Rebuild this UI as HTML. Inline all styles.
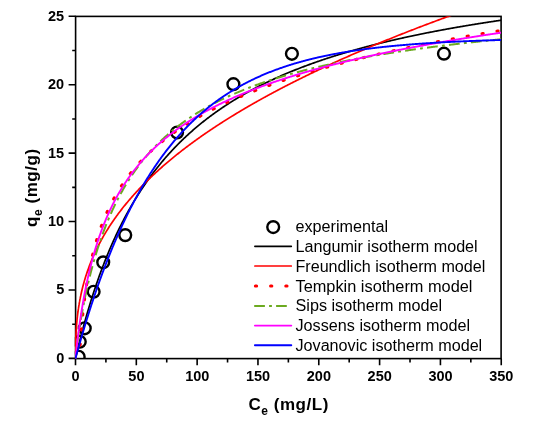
<!DOCTYPE html>
<html><head><meta charset="utf-8"><style>
html,body{margin:0;padding:0;background:#fff;}
body{width:538px;height:436px;overflow:hidden;}
svg{display:block;will-change:transform;font-family:"Liberation Sans",sans-serif;}
.tl{font-weight:bold;font-size:15.2px;fill:#000;}
.ttl{font-weight:bold;font-size:17px;fill:#000;}
.lg{font-size:16px;fill:#000;}
</style></head><body>
<svg width="538" height="436" viewBox="0 0 538 436">
<defs><clipPath id="pc"><rect x="74.8" y="16.3" width="426.2" height="342.8"/></clipPath><clipPath id="pct"><rect x="74.8" y="16.3" width="426.2" height="339.5"/></clipPath></defs>
<g fill="none" stroke="#000" stroke-width="1.6">
<rect x="75.6" y="16.4" width="425.5" height="342.2"/>
<path d="M75.50,358.60 V365.20 M105.91,358.60 V362.40 M136.32,358.60 V365.20 M166.73,358.60 V362.40 M197.14,358.60 V365.20 M227.55,358.60 V362.40 M257.96,358.60 V365.20 M288.37,358.60 V362.40 M318.78,358.60 V365.20 M349.19,358.60 V362.40 M379.60,358.60 V365.20 M410.01,358.60 V362.40 M440.42,358.60 V365.20 M470.83,358.60 V362.40 M501.24,358.60 V365.20 M75.60,358.40 H68.60 M75.60,324.19 H72.20 M75.60,289.98 H68.60 M75.60,255.77 H72.20 M75.60,221.56 H68.60 M75.60,187.35 H72.20 M75.60,153.14 H68.60 M75.60,118.93 H72.20 M75.60,84.72 H68.60 M75.60,50.51 H72.20 M75.60,16.30 H68.60"/>
</g>
<g clip-path="url(#pc)" fill="none" stroke-linejoin="round">
<g stroke="#000" stroke-width="2.4">
<circle cx="78.66" cy="356.76" r="5.9"/>
<circle cx="79.76" cy="341.71" r="5.9"/>
<circle cx="84.74" cy="328.30" r="5.9"/>
<circle cx="93.62" cy="291.76" r="5.9"/>
<circle cx="103.23" cy="262.34" r="5.9"/>
<circle cx="125.25" cy="235.11" r="5.9"/>
<circle cx="177.07" cy="132.48" r="5.9"/>
<circle cx="233.39" cy="84.17" r="5.9"/>
<circle cx="291.90" cy="53.79" r="5.9"/>
<circle cx="443.95" cy="53.66" r="5.9"/>
</g>
<path d="M75.50,358.40 L75.53,358.27 L75.56,358.14 L75.59,358.00 L75.62,357.87 L75.65,357.74 L75.68,357.61 L75.71,357.48 L75.74,357.35 L75.78,357.21 L75.81,357.08 L75.84,356.95 L75.87,356.82 L75.90,356.69 L75.93,356.56 L75.96,356.43 L75.99,356.30 L76.02,356.17 L76.05,356.03 L76.08,355.90 L76.11,355.77 L76.14,355.64 L76.17,355.51 L76.20,355.38 L76.23,355.25 L76.26,355.12 L76.29,354.99 L76.33,354.86 L76.36,354.73 L76.39,354.60 L76.42,354.47 L76.45,354.34 L76.48,354.21 L76.51,354.08 L76.54,353.95 L76.57,353.82 L76.60,353.70 L76.63,353.57 L76.66,353.44 L76.69,353.31 L76.72,353.18 L76.75,353.05 L76.78,352.92 L76.81,352.79 L76.84,352.66 L76.88,352.54 L76.91,352.41 L76.94,352.28 L76.97,352.15 L77.00,352.02 L77.03,351.90 L77.06,351.77 L77.09,351.64 L77.12,351.51 L77.15,351.38 L77.18,351.26 L77.21,351.13 L77.24,351.00 L77.27,350.87 L77.30,350.75 L77.33,350.62 L77.36,350.49 L77.39,350.36 L77.43,350.24 L77.46,350.11 L77.49,349.98 L77.52,349.86 L77.55,349.73 L77.58,349.60 L77.61,349.48 L77.64,349.35 L77.67,349.22 L77.70,349.10 L77.73,348.97 L77.76,348.84 L77.79,348.72 L77.82,348.59 L77.85,348.47 L77.88,348.34 L77.91,348.21 L77.95,348.09 L77.98,347.96 L78.01,347.84 L78.04,347.71 L78.07,347.59 L78.10,347.46 L78.13,347.34 L78.16,347.21 L78.19,347.09 L78.22,346.96 L78.25,346.84 L78.28,346.71 L78.31,346.59 L78.34,346.46 L78.37,346.34 L78.40,346.21 L78.43,346.09 L78.46,345.96 L78.50,345.84 L78.53,345.72 L78.56,345.59 L78.59,345.47 L78.62,345.34 L78.65,345.22 L78.68,345.10 L78.71,344.97 L78.74,344.85 L78.77,344.72 L78.80,344.60 L78.83,344.48 L78.86,344.35 L78.89,344.23 L78.92,344.11 L78.95,343.98 L78.98,343.86 L79.01,343.74 L79.05,343.62 L79.08,343.49 L79.11,343.37 L79.14,343.25 L79.17,343.12 L79.20,343.00 L79.23,342.88 L79.26,342.76 L79.29,342.63 L79.32,342.51 L79.35,342.39 L79.38,342.27 L79.41,342.15 L79.44,342.02 L79.47,341.90 L79.50,341.78 L79.53,341.66 L79.56,341.54 L79.60,341.41 L79.63,341.29 L79.66,341.17 L79.69,341.05 L79.72,340.93 L79.75,340.81 L79.78,340.69 L79.81,340.57 L79.84,340.44 L79.87,340.32 L79.90,340.20 L79.93,340.08 L79.96,339.96 L79.99,339.84 L80.02,339.72 L80.05,339.60 L80.08,339.48 L80.11,339.36 L80.15,339.24 L80.18,339.12 L80.21,339.00 L80.24,338.88 L80.27,338.76 L80.30,338.64 L80.33,338.52 L80.36,338.40 L80.39,338.28 L80.42,338.16 L80.45,338.04 L80.48,337.92 L80.51,337.80 L80.54,337.68 L80.57,337.56 L80.60,337.44 L80.63,337.32 L80.67,337.21 L80.70,337.09 L80.73,336.97 L80.76,336.85 L80.79,336.73 L80.82,336.61 L80.85,336.49 L80.88,336.37 L80.91,336.26 L80.94,336.14 L80.97,336.02 L81.00,335.90 L81.03,335.78 L81.06,335.66 L81.09,335.55 L81.12,335.43 L81.15,335.31 L81.18,335.19 L81.22,335.08 L81.25,334.96 L81.28,334.84 L81.31,334.72 L81.34,334.60 L81.37,334.49 L81.40,334.37 L81.43,334.25 L81.46,334.14 L81.49,334.02 L81.52,333.90 L81.55,333.78 L81.58,333.67 L82.18,331.39 L82.78,329.13 L83.38,326.90 L83.98,324.70 L84.58,322.52 L85.18,320.36 L85.78,318.24 L86.38,316.13 L86.99,314.05 L87.59,311.99 L88.19,309.95 L88.79,307.94 L89.39,305.95 L89.99,303.98 L90.59,302.03 L91.19,300.10 L91.79,298.20 L92.39,296.31 L92.99,294.44 L93.59,292.60 L94.19,290.77 L94.79,288.96 L95.39,287.17 L95.99,285.40 L96.59,283.65 L97.19,281.91 L97.79,280.19 L98.39,278.49 L98.99,276.81 L99.59,275.15 L100.19,273.50 L100.79,271.86 L101.39,270.25 L101.99,268.65 L102.59,267.06 L103.20,265.49 L103.80,263.94 L104.40,262.40 L105.00,260.87 L105.60,259.36 L106.20,257.86 L106.80,256.38 L107.40,254.91 L108.00,253.46 L108.60,252.02 L109.20,250.59 L109.80,249.18 L110.40,247.78 L111.00,246.39 L111.60,245.01 L112.20,243.65 L112.80,242.30 L113.40,240.96 L114.00,239.63 L114.60,238.32 L115.20,237.01 L115.80,235.72 L116.40,234.44 L117.00,233.17 L117.60,231.91 L118.20,230.66 L118.80,229.43 L119.41,228.20 L120.01,226.99 L120.61,225.78 L121.21,224.59 L121.81,223.40 L122.41,222.23 L123.01,221.06 L123.61,219.91 L124.21,218.76 L124.81,217.62 L125.41,216.50 L126.01,215.38 L126.61,214.27 L127.21,213.17 L127.81,212.08 L128.41,211.00 L129.01,209.93 L129.61,208.86 L130.21,207.81 L130.81,206.76 L131.41,205.72 L132.01,204.69 L132.61,203.66 L133.21,202.65 L133.81,201.64 L134.41,200.64 L135.01,199.65 L135.62,198.67 L136.22,197.69 L136.82,196.72 L137.42,195.76 L138.02,194.81 L138.62,193.86 L139.22,192.92 L139.82,191.99 L140.42,191.06 L141.02,190.14 L141.62,189.23 L142.22,188.32 L142.82,187.43 L143.42,186.53 L144.02,185.65 L144.62,184.77 L145.22,183.90 L145.82,183.03 L146.42,182.17 L147.02,181.31 L147.62,180.47 L148.22,179.62 L148.82,178.79 L149.42,177.96 L150.02,177.13 L150.62,176.32 L151.22,175.50 L151.83,174.70 L152.43,173.90 L153.03,173.10 L153.63,172.31 L154.23,171.52 L154.83,170.74 L155.43,169.97 L156.03,169.20 L156.63,168.44 L157.23,167.68 L157.83,166.93 L158.43,166.18 L159.03,165.43 L159.63,164.70 L160.23,163.96 L160.83,163.23 L161.43,162.51 L162.03,161.79 L162.63,161.08 L163.23,160.37 L163.83,159.66 L164.43,158.96 L165.03,158.27 L165.63,157.57 L166.23,156.89 L166.83,156.20 L167.43,155.53 L168.04,154.85 L168.64,154.18 L169.24,153.52 L169.84,152.86 L170.44,152.20 L171.04,151.55 L171.64,150.90 L172.24,150.25 L172.84,149.61 L173.44,148.98 L174.04,148.34 L174.64,147.71 L175.24,147.09 L175.84,146.47 L176.44,145.85 L177.04,145.24 L177.64,144.63 L178.24,144.02 L178.84,143.42 L179.44,142.82 L180.04,142.22 L180.64,141.63 L181.24,141.04 L181.84,140.46 L182.44,139.88 L183.04,139.30 L183.64,138.72 L184.25,138.15 L184.85,137.59 L185.45,137.02 L186.05,136.46 L186.65,135.90 L187.25,135.35 L187.85,134.80 L188.45,134.25 L189.05,133.70 L189.65,133.16 L190.25,132.62 L190.85,132.09 L191.45,131.55 L192.05,131.02 L192.65,130.50 L193.25,129.97 L193.85,129.45 L194.45,128.93 L195.05,128.42 L195.65,127.91 L196.25,127.40 L196.85,126.89 L197.45,126.39 L198.05,125.88 L198.65,125.39 L199.25,124.89 L199.85,124.40 L200.46,123.91 L201.06,123.42 L201.66,122.93 L202.26,122.45 L202.86,121.97 L203.46,121.50 L204.06,121.02 L204.66,120.55 L205.26,120.08 L205.86,119.61 L206.46,119.15 L207.06,118.69 L207.66,118.23 L208.26,117.77 L208.86,117.31 L209.46,116.86 L210.06,116.41 L210.66,115.96 L211.26,115.52 L211.86,115.07 L212.46,114.63 L213.06,114.19 L213.66,113.76 L214.26,113.32 L214.86,112.89 L215.46,112.46 L216.06,112.04 L216.67,111.61 L217.27,111.19 L217.87,110.77 L218.47,110.35 L219.07,109.93 L219.67,109.51 L220.27,109.10 L220.87,108.69 L221.47,108.28 L222.07,107.88 L222.67,107.47 L223.27,107.07 L223.87,106.67 L224.47,106.27 L225.07,105.87 L225.67,105.48 L226.27,105.09 L226.87,104.69 L227.47,104.31 L228.07,103.92 L228.67,103.53 L229.27,103.15 L229.87,102.77 L230.47,102.39 L231.07,102.01 L231.67,101.63 L232.27,101.26 L232.88,100.89 L233.48,100.52 L234.08,100.15 L234.68,99.78 L235.28,99.41 L235.88,99.05 L236.48,98.69 L237.08,98.33 L237.68,97.97 L238.28,97.61 L238.88,97.26 L239.48,96.90 L240.08,96.55 L240.68,96.20 L241.28,95.85 L241.88,95.50 L242.48,95.16 L243.08,94.81 L243.68,94.47 L244.28,94.13 L244.88,93.79 L245.48,93.45 L246.08,93.12 L246.68,92.78 L247.28,92.45 L247.88,92.11 L248.48,91.78 L249.08,91.46 L249.69,91.13 L250.29,90.80 L250.89,90.48 L251.49,90.15 L252.09,89.83 L252.69,89.51 L253.29,89.19 L253.89,88.87 L254.49,88.56 L255.09,88.24 L255.69,87.93 L256.29,87.62 L256.89,87.31 L257.49,87.00 L258.09,86.69 L258.69,86.38 L259.29,86.08 L259.89,85.77 L260.49,85.47 L261.09,85.17 L261.69,84.87 L262.29,84.57 L262.89,84.27 L263.49,83.98 L264.09,83.68 L264.69,83.39 L265.29,83.09 L265.90,82.80 L266.50,82.51 L267.10,82.22 L267.70,81.94 L268.30,81.65 L268.90,81.36 L269.50,81.08 L270.10,80.80 L270.70,80.51 L271.30,80.23 L271.90,79.95 L272.50,79.68 L273.10,79.40 L273.70,79.12 L274.30,78.85 L274.90,78.57 L275.50,78.30 L276.10,78.03 L276.70,77.76 L277.30,77.49 L277.90,77.22 L278.50,76.95 L279.10,76.69 L279.70,76.42 L280.30,76.16 L280.90,75.89 L281.50,75.63 L282.11,75.37 L282.71,75.11 L283.31,74.85 L283.91,74.59 L284.51,74.34 L285.11,74.08 L285.71,73.83 L286.31,73.57 L286.91,73.32 L287.51,73.07 L288.11,72.82 L288.71,72.57 L289.31,72.32 L289.91,72.07 L290.51,71.82 L291.11,71.58 L291.71,71.33 L292.31,71.09 L292.91,70.84 L293.51,70.60 L294.11,70.36 L294.71,70.12 L295.31,69.88 L295.91,69.64 L296.51,69.40 L297.11,69.17 L297.71,68.93 L298.32,68.69 L298.92,68.46 L299.52,68.23 L300.12,67.99 L300.72,67.76 L301.32,67.53 L301.92,67.30 L302.52,67.07 L303.12,66.84 L303.72,66.62 L304.32,66.39 L304.92,66.16 L305.52,65.94 L306.12,65.72 L306.72,65.49 L307.32,65.27 L307.92,65.05 L308.52,64.83 L309.12,64.61 L309.72,64.39 L310.32,64.17 L310.92,63.95 L311.52,63.74 L312.12,63.52 L312.72,63.31 L313.32,63.09 L313.92,62.88 L314.53,62.66 L315.13,62.45 L315.73,62.24 L316.33,62.03 L316.93,61.82 L317.53,61.61 L318.13,61.40 L318.73,61.19 L319.33,60.99 L319.93,60.78 L320.53,60.58 L321.13,60.37 L321.73,60.17 L322.33,59.96 L322.93,59.76 L323.53,59.56 L324.13,59.36 L324.73,59.16 L325.33,58.96 L325.93,58.76 L326.53,58.56 L327.13,58.36 L327.73,58.17 L328.33,57.97 L328.93,57.77 L329.53,57.58 L330.13,57.38 L330.74,57.19 L331.34,57.00 L331.94,56.81 L332.54,56.61 L333.14,56.42 L333.74,56.23 L334.34,56.04 L334.94,55.85 L335.54,55.67 L336.14,55.48 L336.74,55.29 L337.34,55.10 L337.94,54.92 L338.54,54.73 L339.14,54.55 L339.74,54.36 L340.34,54.18 L340.94,54.00 L341.54,53.82 L342.14,53.63 L342.74,53.45 L343.34,53.27 L343.94,53.09 L344.54,52.91 L345.14,52.73 L345.74,52.56 L346.34,52.38 L346.95,52.20 L347.55,52.03 L348.15,51.85 L348.75,51.67 L349.35,51.50 L349.95,51.33 L350.55,51.15 L351.15,50.98 L351.75,50.81 L352.35,50.63 L352.95,50.46 L353.55,50.29 L354.15,50.12 L354.75,49.95 L355.35,49.78 L355.95,49.62 L356.55,49.45 L357.15,49.28 L357.75,49.11 L358.35,48.95 L358.95,48.78 L359.55,48.61 L360.15,48.45 L360.75,48.29 L361.35,48.12 L361.95,47.96 L362.55,47.80 L363.16,47.63 L363.76,47.47 L364.36,47.31 L364.96,47.15 L365.56,46.99 L366.16,46.83 L366.76,46.67 L367.36,46.51 L367.96,46.35 L368.56,46.20 L369.16,46.04 L369.76,45.88 L370.36,45.73 L370.96,45.57 L371.56,45.41 L372.16,45.26 L372.76,45.10 L373.36,44.95 L373.96,44.80 L374.56,44.64 L375.16,44.49 L375.76,44.34 L376.36,44.19 L376.96,44.04 L377.56,43.89 L378.16,43.74 L378.76,43.59 L379.37,43.44 L379.97,43.29 L380.57,43.14 L381.17,42.99 L381.77,42.84 L382.37,42.70 L382.97,42.55 L383.57,42.40 L384.17,42.26 L384.77,42.11 L385.37,41.97 L385.97,41.82 L386.57,41.68 L387.17,41.53 L387.77,41.39 L388.37,41.25 L388.97,41.11 L389.57,40.96 L390.17,40.82 L390.77,40.68 L391.37,40.54 L391.97,40.40 L392.57,40.26 L393.17,40.12 L393.77,39.98 L394.37,39.84 L394.97,39.70 L395.58,39.57 L396.18,39.43 L396.78,39.29 L397.38,39.15 L397.98,39.02 L398.58,38.88 L399.18,38.75 L399.78,38.61 L400.38,38.48 L400.98,38.34 L401.58,38.21 L402.18,38.07 L402.78,37.94 L403.38,37.81 L403.98,37.68 L404.58,37.54 L405.18,37.41 L405.78,37.28 L406.38,37.15 L406.98,37.02 L407.58,36.89 L408.18,36.76 L408.78,36.63 L409.38,36.50 L409.98,36.37 L410.58,36.24 L411.18,36.11 L411.79,35.99 L412.39,35.86 L412.99,35.73 L413.59,35.61 L414.19,35.48 L414.79,35.35 L415.39,35.23 L415.99,35.10 L416.59,34.98 L417.19,34.85 L417.79,34.73 L418.39,34.60 L418.99,34.48 L419.59,34.36 L420.19,34.23 L420.79,34.11 L421.39,33.99 L421.99,33.87 L422.59,33.75 L423.19,33.62 L423.79,33.50 L424.39,33.38 L424.99,33.26 L425.59,33.14 L426.19,33.02 L426.79,32.90 L427.39,32.78 L427.99,32.67 L428.60,32.55 L429.20,32.43 L429.80,32.31 L430.40,32.19 L431.00,32.08 L431.60,31.96 L432.20,31.84 L432.80,31.73 L433.40,31.61 L434.00,31.50 L434.60,31.38 L435.20,31.27 L435.80,31.15 L436.40,31.04 L437.00,30.92 L437.60,30.81 L438.20,30.70 L438.80,30.58 L439.40,30.47 L440.00,30.36 L440.60,30.24 L441.20,30.13 L441.80,30.02 L442.40,29.91 L443.00,29.80 L443.60,29.69 L444.20,29.58 L444.81,29.47 L445.41,29.36 L446.01,29.25 L446.61,29.14 L447.21,29.03 L447.81,28.92 L448.41,28.81 L449.01,28.70 L449.61,28.59 L450.21,28.49 L450.81,28.38 L451.41,28.27 L452.01,28.16 L452.61,28.06 L453.21,27.95 L453.81,27.85 L454.41,27.74 L455.01,27.63 L455.61,27.53 L456.21,27.42 L456.81,27.32 L457.41,27.21 L458.01,27.11 L458.61,27.01 L459.21,26.90 L459.81,26.80 L460.41,26.70 L461.02,26.59 L461.62,26.49 L462.22,26.39 L462.82,26.29 L463.42,26.18 L464.02,26.08 L464.62,25.98 L465.22,25.88 L465.82,25.78 L466.42,25.68 L467.02,25.58 L467.62,25.48 L468.22,25.38 L468.82,25.28 L469.42,25.18 L470.02,25.08 L470.62,24.98 L471.22,24.88 L471.82,24.78 L472.42,24.68 L473.02,24.59 L473.62,24.49 L474.22,24.39 L474.82,24.29 L475.42,24.20 L476.02,24.10 L476.62,24.00 L477.23,23.91 L477.83,23.81 L478.43,23.71 L479.03,23.62 L479.63,23.52 L480.23,23.43 L480.83,23.33 L481.43,23.24 L482.03,23.14 L482.63,23.05 L483.23,22.96 L483.83,22.86 L484.43,22.77 L485.03,22.67 L485.63,22.58 L486.23,22.49 L486.83,22.40 L487.43,22.30 L488.03,22.21 L488.63,22.12 L489.23,22.03 L489.83,21.94 L490.43,21.84 L491.03,21.75 L491.63,21.66 L492.23,21.57 L492.83,21.48 L493.44,21.39 L494.04,21.30 L494.64,21.21 L495.24,21.12 L495.84,21.03 L496.44,20.94 L497.04,20.85 L497.64,20.76 L498.24,20.67 L498.84,20.59 L499.44,20.50 L500.04,20.41 L500.64,20.32 L501.24,20.23" stroke="#000" stroke-width="1.7"/>
<path d="M75.50,358.40 L75.53,350.27 L75.56,347.69 L75.59,345.82 L75.62,344.30 L75.65,342.99 L75.68,341.83 L75.71,340.79 L75.74,339.83 L75.78,338.94 L75.81,338.10 L75.84,337.32 L75.87,336.58 L75.90,335.87 L75.93,335.20 L75.96,334.56 L75.99,333.94 L76.02,333.34 L76.05,332.76 L76.08,332.21 L76.11,331.67 L76.14,331.14 L76.17,330.64 L76.20,330.14 L76.23,329.66 L76.26,329.19 L76.29,328.73 L76.33,328.28 L76.36,327.84 L76.39,327.41 L76.42,326.99 L76.45,326.58 L76.48,326.18 L76.51,325.78 L76.54,325.39 L76.57,325.01 L76.60,324.63 L76.63,324.26 L76.66,323.90 L76.69,323.54 L76.72,323.19 L76.75,322.84 L76.78,322.50 L76.81,322.16 L76.84,321.83 L76.88,321.50 L76.91,321.18 L76.94,320.86 L76.97,320.54 L77.00,320.23 L77.03,319.92 L77.06,319.62 L77.09,319.32 L77.12,319.02 L77.15,318.73 L77.18,318.44 L77.21,318.15 L77.24,317.87 L77.27,317.59 L77.30,317.31 L77.33,317.03 L77.36,316.76 L77.39,316.49 L77.43,316.22 L77.46,315.96 L77.49,315.69 L77.52,315.44 L77.55,315.18 L77.58,314.92 L77.61,314.67 L77.64,314.42 L77.67,314.17 L77.70,313.92 L77.73,313.68 L77.76,313.44 L77.79,313.20 L77.82,312.96 L77.85,312.72 L77.88,312.49 L77.91,312.25 L77.95,312.02 L77.98,311.79 L78.01,311.56 L78.04,311.34 L78.07,311.11 L78.10,310.89 L78.13,310.67 L78.16,310.45 L78.19,310.23 L78.22,310.01 L78.25,309.80 L78.28,309.58 L78.31,309.37 L78.34,309.16 L78.37,308.95 L78.40,308.74 L78.43,308.54 L78.46,308.33 L78.50,308.13 L78.53,307.92 L78.56,307.72 L78.59,307.52 L78.62,307.32 L78.65,307.12 L78.68,306.92 L78.71,306.73 L78.74,306.53 L78.77,306.34 L78.80,306.15 L78.83,305.95 L78.86,305.76 L78.89,305.57 L78.92,305.39 L78.95,305.20 L78.98,305.01 L79.01,304.83 L79.05,304.64 L79.08,304.46 L79.11,304.27 L79.14,304.09 L79.17,303.91 L79.20,303.73 L79.23,303.55 L79.26,303.37 L79.29,303.20 L79.32,303.02 L79.35,302.84 L79.38,302.67 L79.41,302.50 L79.44,302.32 L79.47,302.15 L79.50,301.98 L79.53,301.81 L79.56,301.64 L79.60,301.47 L79.63,301.30 L79.66,301.13 L79.69,300.97 L79.72,300.80 L79.75,300.63 L79.78,300.47 L79.81,300.30 L79.84,300.14 L79.87,299.98 L79.90,299.82 L79.93,299.65 L79.96,299.49 L79.99,299.33 L80.02,299.17 L80.05,299.02 L80.08,298.86 L80.11,298.70 L80.15,298.54 L80.18,298.39 L80.21,298.23 L80.24,298.08 L80.27,297.92 L80.30,297.77 L80.33,297.62 L80.36,297.46 L80.39,297.31 L80.42,297.16 L80.45,297.01 L80.48,296.86 L80.51,296.71 L80.54,296.56 L80.57,296.41 L80.60,296.26 L80.63,296.11 L80.67,295.97 L80.70,295.82 L80.73,295.68 L80.76,295.53 L80.79,295.38 L80.82,295.24 L80.85,295.10 L80.88,294.95 L80.91,294.81 L80.94,294.67 L80.97,294.52 L81.00,294.38 L81.03,294.24 L81.06,294.10 L81.09,293.96 L81.12,293.82 L81.15,293.68 L81.18,293.54 L81.22,293.41 L81.25,293.27 L81.28,293.13 L81.31,292.99 L81.34,292.86 L81.37,292.72 L81.40,292.58 L81.43,292.45 L81.46,292.31 L81.49,292.18 L81.52,292.05 L81.55,291.91 L81.58,291.78 L82.18,289.24 L82.78,286.83 L83.38,284.54 L83.98,282.36 L84.58,280.26 L85.18,278.25 L85.78,276.31 L86.38,274.44 L86.99,272.63 L87.59,270.87 L88.19,269.17 L88.79,267.51 L89.39,265.90 L89.99,264.34 L90.59,262.80 L91.19,261.31 L91.79,259.85 L92.39,258.42 L92.99,257.03 L93.59,255.66 L94.19,254.31 L94.79,253.00 L95.39,251.71 L95.99,250.44 L96.59,249.19 L97.19,247.97 L97.79,246.76 L98.39,245.58 L98.99,244.41 L99.59,243.26 L100.19,242.13 L100.79,241.01 L101.39,239.91 L101.99,238.83 L102.59,237.76 L103.20,236.70 L103.80,235.66 L104.40,234.63 L105.00,233.62 L105.60,232.61 L106.20,231.62 L106.80,230.64 L107.40,229.68 L108.00,228.72 L108.60,227.77 L109.20,226.83 L109.80,225.91 L110.40,224.99 L111.00,224.08 L111.60,223.18 L112.20,222.30 L112.80,221.41 L113.40,220.54 L114.00,219.68 L114.60,218.82 L115.20,217.98 L115.80,217.14 L116.40,216.30 L117.00,215.48 L117.60,214.66 L118.20,213.85 L118.80,213.04 L119.41,212.25 L120.01,211.46 L120.61,210.67 L121.21,209.89 L121.81,209.12 L122.41,208.35 L123.01,207.59 L123.61,206.84 L124.21,206.09 L124.81,205.35 L125.41,204.61 L126.01,203.88 L126.61,203.15 L127.21,202.43 L127.81,201.71 L128.41,201.00 L129.01,200.29 L129.61,199.59 L130.21,198.89 L130.81,198.19 L131.41,197.51 L132.01,196.82 L132.61,196.14 L133.21,195.47 L133.81,194.79 L134.41,194.13 L135.01,193.46 L135.62,192.80 L136.22,192.15 L136.82,191.50 L137.42,190.85 L138.02,190.21 L138.62,189.57 L139.22,188.93 L139.82,188.30 L140.42,187.67 L141.02,187.04 L141.62,186.42 L142.22,185.80 L142.82,185.18 L143.42,184.57 L144.02,183.96 L144.62,183.36 L145.22,182.75 L145.82,182.16 L146.42,181.56 L147.02,180.97 L147.62,180.37 L148.22,179.79 L148.82,179.20 L149.42,178.62 L150.02,178.04 L150.62,177.47 L151.22,176.89 L151.83,176.32 L152.43,175.75 L153.03,175.19 L153.63,174.63 L154.23,174.07 L154.83,173.51 L155.43,172.95 L156.03,172.40 L156.63,171.85 L157.23,171.30 L157.83,170.76 L158.43,170.22 L159.03,169.68 L159.63,169.14 L160.23,168.60 L160.83,168.07 L161.43,167.54 L162.03,167.01 L162.63,166.48 L163.23,165.96 L163.83,165.44 L164.43,164.92 L165.03,164.40 L165.63,163.88 L166.23,163.37 L166.83,162.86 L167.43,162.35 L168.04,161.84 L168.64,161.33 L169.24,160.83 L169.84,160.33 L170.44,159.83 L171.04,159.33 L171.64,158.83 L172.24,158.34 L172.84,157.84 L173.44,157.35 L174.04,156.87 L174.64,156.38 L175.24,155.89 L175.84,155.41 L176.44,154.93 L177.04,154.45 L177.64,153.97 L178.24,153.49 L178.84,153.02 L179.44,152.54 L180.04,152.07 L180.64,151.60 L181.24,151.13 L181.84,150.67 L182.44,150.20 L183.04,149.74 L183.64,149.27 L184.25,148.81 L184.85,148.36 L185.45,147.90 L186.05,147.44 L186.65,146.99 L187.25,146.53 L187.85,146.08 L188.45,145.63 L189.05,145.18 L189.65,144.74 L190.25,144.29 L190.85,143.85 L191.45,143.40 L192.05,142.96 L192.65,142.52 L193.25,142.08 L193.85,141.64 L194.45,141.21 L195.05,140.77 L195.65,140.34 L196.25,139.91 L196.85,139.47 L197.45,139.04 L198.05,138.62 L198.65,138.19 L199.25,137.76 L199.85,137.34 L200.46,136.91 L201.06,136.49 L201.66,136.07 L202.26,135.65 L202.86,135.23 L203.46,134.81 L204.06,134.40 L204.66,133.98 L205.26,133.57 L205.86,133.16 L206.46,132.74 L207.06,132.33 L207.66,131.92 L208.26,131.52 L208.86,131.11 L209.46,130.70 L210.06,130.30 L210.66,129.89 L211.26,129.49 L211.86,129.09 L212.46,128.69 L213.06,128.29 L213.66,127.89 L214.26,127.49 L214.86,127.10 L215.46,126.70 L216.06,126.31 L216.67,125.91 L217.27,125.52 L217.87,125.13 L218.47,124.74 L219.07,124.35 L219.67,123.96 L220.27,123.57 L220.87,123.19 L221.47,122.80 L222.07,122.42 L222.67,122.03 L223.27,121.65 L223.87,121.27 L224.47,120.89 L225.07,120.51 L225.67,120.13 L226.27,119.75 L226.87,119.37 L227.47,119.00 L228.07,118.62 L228.67,118.25 L229.27,117.87 L229.87,117.50 L230.47,117.13 L231.07,116.76 L231.67,116.39 L232.27,116.02 L232.88,115.65 L233.48,115.28 L234.08,114.91 L234.68,114.55 L235.28,114.18 L235.88,113.82 L236.48,113.45 L237.08,113.09 L237.68,112.73 L238.28,112.37 L238.88,112.01 L239.48,111.65 L240.08,111.29 L240.68,110.93 L241.28,110.58 L241.88,110.22 L242.48,109.86 L243.08,109.51 L243.68,109.16 L244.28,108.80 L244.88,108.45 L245.48,108.10 L246.08,107.75 L246.68,107.40 L247.28,107.05 L247.88,106.70 L248.48,106.35 L249.08,106.00 L249.69,105.66 L250.29,105.31 L250.89,104.97 L251.49,104.62 L252.09,104.28 L252.69,103.93 L253.29,103.59 L253.89,103.25 L254.49,102.91 L255.09,102.57 L255.69,102.23 L256.29,101.89 L256.89,101.55 L257.49,101.21 L258.09,100.88 L258.69,100.54 L259.29,100.21 L259.89,99.87 L260.49,99.54 L261.09,99.20 L261.69,98.87 L262.29,98.54 L262.89,98.21 L263.49,97.88 L264.09,97.55 L264.69,97.22 L265.29,96.89 L265.90,96.56 L266.50,96.23 L267.10,95.90 L267.70,95.58 L268.30,95.25 L268.90,94.92 L269.50,94.60 L270.10,94.28 L270.70,93.95 L271.30,93.63 L271.90,93.31 L272.50,92.99 L273.10,92.66 L273.70,92.34 L274.30,92.02 L274.90,91.70 L275.50,91.39 L276.10,91.07 L276.70,90.75 L277.30,90.43 L277.90,90.12 L278.50,89.80 L279.10,89.48 L279.70,89.17 L280.30,88.85 L280.90,88.54 L281.50,88.23 L282.11,87.92 L282.71,87.60 L283.31,87.29 L283.91,86.98 L284.51,86.67 L285.11,86.36 L285.71,86.05 L286.31,85.74 L286.91,85.43 L287.51,85.13 L288.11,84.82 L288.71,84.51 L289.31,84.21 L289.91,83.90 L290.51,83.59 L291.11,83.29 L291.71,82.99 L292.31,82.68 L292.91,82.38 L293.51,82.08 L294.11,81.77 L294.71,81.47 L295.31,81.17 L295.91,80.87 L296.51,80.57 L297.11,80.27 L297.71,79.97 L298.32,79.67 L298.92,79.37 L299.52,79.08 L300.12,78.78 L300.72,78.48 L301.32,78.19 L301.92,77.89 L302.52,77.59 L303.12,77.30 L303.72,77.01 L304.32,76.71 L304.92,76.42 L305.52,76.12 L306.12,75.83 L306.72,75.54 L307.32,75.25 L307.92,74.96 L308.52,74.67 L309.12,74.38 L309.72,74.09 L310.32,73.80 L310.92,73.51 L311.52,73.22 L312.12,72.93 L312.72,72.64 L313.32,72.36 L313.92,72.07 L314.53,71.78 L315.13,71.50 L315.73,71.21 L316.33,70.93 L316.93,70.64 L317.53,70.36 L318.13,70.07 L318.73,69.79 L319.33,69.51 L319.93,69.23 L320.53,68.94 L321.13,68.66 L321.73,68.38 L322.33,68.10 L322.93,67.82 L323.53,67.54 L324.13,67.26 L324.73,66.98 L325.33,66.70 L325.93,66.42 L326.53,66.14 L327.13,65.87 L327.73,65.59 L328.33,65.31 L328.93,65.04 L329.53,64.76 L330.13,64.49 L330.74,64.21 L331.34,63.94 L331.94,63.66 L332.54,63.39 L333.14,63.11 L333.74,62.84 L334.34,62.57 L334.94,62.29 L335.54,62.02 L336.14,61.75 L336.74,61.48 L337.34,61.21 L337.94,60.94 L338.54,60.67 L339.14,60.40 L339.74,60.13 L340.34,59.86 L340.94,59.59 L341.54,59.32 L342.14,59.05 L342.74,58.79 L343.34,58.52 L343.94,58.25 L344.54,57.98 L345.14,57.72 L345.74,57.45 L346.34,57.19 L346.95,56.92 L347.55,56.66 L348.15,56.39 L348.75,56.13 L349.35,55.86 L349.95,55.60 L350.55,55.34 L351.15,55.07 L351.75,54.81 L352.35,54.55 L352.95,54.29 L353.55,54.03 L354.15,53.77 L354.75,53.51 L355.35,53.25 L355.95,52.99 L356.55,52.73 L357.15,52.47 L357.75,52.21 L358.35,51.95 L358.95,51.69 L359.55,51.43 L360.15,51.17 L360.75,50.92 L361.35,50.66 L361.95,50.40 L362.55,50.15 L363.16,49.89 L363.76,49.64 L364.36,49.38 L364.96,49.12 L365.56,48.87 L366.16,48.62 L366.76,48.36 L367.36,48.11 L367.96,47.85 L368.56,47.60 L369.16,47.35 L369.76,47.10 L370.36,46.84 L370.96,46.59 L371.56,46.34 L372.16,46.09 L372.76,45.84 L373.36,45.59 L373.96,45.34 L374.56,45.09 L375.16,44.84 L375.76,44.59 L376.36,44.34 L376.96,44.09 L377.56,43.84 L378.16,43.59 L378.76,43.34 L379.37,43.10 L379.97,42.85 L380.57,42.60 L381.17,42.35 L381.77,42.11 L382.37,41.86 L382.97,41.61 L383.57,41.37 L384.17,41.12 L384.77,40.88 L385.37,40.63 L385.97,40.39 L386.57,40.14 L387.17,39.90 L387.77,39.66 L388.37,39.41 L388.97,39.17 L389.57,38.93 L390.17,38.69 L390.77,38.44 L391.37,38.20 L391.97,37.96 L392.57,37.72 L393.17,37.48 L393.77,37.24 L394.37,36.99 L394.97,36.75 L395.58,36.51 L396.18,36.27 L396.78,36.04 L397.38,35.80 L397.98,35.56 L398.58,35.32 L399.18,35.08 L399.78,34.84 L400.38,34.60 L400.98,34.37 L401.58,34.13 L402.18,33.89 L402.78,33.65 L403.38,33.42 L403.98,33.18 L404.58,32.95 L405.18,32.71 L405.78,32.47 L406.38,32.24 L406.98,32.00 L407.58,31.77 L408.18,31.53 L408.78,31.30 L409.38,31.07 L409.98,30.83 L410.58,30.60 L411.18,30.36 L411.79,30.13 L412.39,29.90 L412.99,29.67 L413.59,29.43 L414.19,29.20 L414.79,28.97 L415.39,28.74 L415.99,28.51 L416.59,28.28 L417.19,28.05 L417.79,27.81 L418.39,27.58 L418.99,27.35 L419.59,27.12 L420.19,26.89 L420.79,26.67 L421.39,26.44 L421.99,26.21 L422.59,25.98 L423.19,25.75 L423.79,25.52 L424.39,25.29 L424.99,25.07 L425.59,24.84 L426.19,24.61 L426.79,24.39 L427.39,24.16 L427.99,23.93 L428.60,23.71 L429.20,23.48 L429.80,23.25 L430.40,23.03 L431.00,22.80 L431.60,22.58 L432.20,22.35 L432.80,22.13 L433.40,21.90 L434.00,21.68 L434.60,21.46 L435.20,21.23 L435.80,21.01 L436.40,20.78 L437.00,20.56 L437.60,20.34 L438.20,20.12 L438.80,19.89 L439.40,19.67 L440.00,19.45 L440.60,19.23 L441.20,19.01 L441.80,18.78 L442.40,18.56 L443.00,18.34 L443.60,18.12 L444.20,17.90 L444.81,17.68 L445.41,17.46 L446.01,17.24 L446.61,17.02 L447.21,16.80 L447.81,16.58 L448.41,16.36 L449.01,16.15 L449.61,15.93 L450.21,15.71 L450.81,15.49 L451.41,15.27 L452.01,15.05 L452.61,14.84 L453.21,14.62 L453.81,14.40 L454.41,14.19 L455.01,13.97 L455.61,13.75 L456.21,13.54 L456.81,13.32 L457.41,13.10 L458.01,12.89 L458.61,12.67 L459.21,12.46 L459.81,12.24 L460.41,12.03 L461.02,11.81 L461.62,11.60 L462.22,11.39 L462.82,11.17 L463.42,10.96 L464.02,10.74 L464.62,10.53 L465.22,10.32 L465.82,10.10 L466.42,9.89 L467.02,9.68 L467.62,9.47 L468.22,9.25 L468.82,9.04 L469.42,8.83 L470.02,8.62 L470.62,8.41 L471.22,8.20 L471.82,7.98 L472.42,7.77 L473.02,7.56 L473.62,7.35 L474.22,7.14 L474.82,6.93 L475.42,6.72 L476.02,6.51 L476.62,6.30 L477.23,6.09 L477.83,5.88 L478.43,5.68 L479.03,5.47 L479.63,5.26 L480.23,5.05 L480.83,4.84 L481.43,4.63 L482.03,4.43 L482.63,4.22 L483.23,4.01 L483.83,3.80 L484.43,3.60 L485.03,3.39 L485.63,3.18 L486.23,2.98 L486.83,2.77 L487.43,2.56 L488.03,2.36 L488.63,2.15 L489.23,1.95 L489.83,1.74 L490.43,1.53 L491.03,1.33 L491.63,1.12 L492.23,0.92 L492.83,0.72 L493.44,0.51 L494.04,0.31 L494.64,0.10 L495.24,-0.10 L495.84,-0.31 L496.44,-0.51 L497.04,-0.71 L497.64,-0.92 L498.24,-1.12 L498.84,-1.32 L499.44,-1.52 L500.04,-1.73 L500.64,-1.93 L501.24,-2.13" stroke="#ff0000" stroke-width="1.7"/>
<path clip-path="url(#pct)" d="M79.19,361.98 L79.20,361.75 L79.21,361.53 L79.22,361.30 L79.23,361.07 L79.25,360.85 L79.26,360.63 L79.27,360.40 L79.28,360.18 L79.29,359.96 L79.31,359.74 L79.32,359.52 L79.33,359.30 L79.34,359.08 L79.35,358.86 L79.37,358.64 L79.38,358.42 L79.39,358.21 L79.40,357.99 L79.41,357.78 L79.43,357.56 L79.44,357.35 L79.45,357.13 L79.46,356.92 L79.47,356.71 L79.49,356.50 L79.50,356.29 L79.51,356.08 L79.52,355.87 L79.53,355.66 L79.55,355.45 L79.56,355.24 L79.57,355.04 L79.58,354.83 L79.59,354.63 L79.61,354.42 L79.62,354.22 L79.63,354.01 L79.64,353.81 L79.66,353.61 L79.67,353.40 L79.68,353.20 L79.69,353.00 L79.70,352.80 L79.72,352.60 L79.73,352.40 L79.74,352.20 L79.75,352.01 L79.76,351.81 L79.78,351.61 L79.79,351.42 L79.80,351.22 L79.81,351.02 L79.82,350.83 L79.84,350.63 L79.85,350.44 L79.86,350.25 L79.87,350.06 L79.88,349.86 L79.90,349.67 L79.91,349.48 L79.92,349.29 L79.93,349.10 L79.94,348.91 L79.96,348.72 L79.97,348.53 L79.98,348.35 L79.99,348.16 L80.00,347.97 L80.02,347.79 L80.03,347.60 L80.04,347.41 L80.05,347.23 L80.06,347.04 L80.08,346.86 L80.09,346.68 L80.10,346.49 L80.11,346.31 L80.12,346.13 L80.14,345.95 L80.15,345.77 L80.16,345.59 L80.17,345.41 L80.18,345.23 L80.20,345.05 L80.21,344.87 L80.22,344.69 L80.23,344.51 L80.25,344.33 L80.26,344.16 L80.27,343.98 L80.28,343.80 L80.29,343.63 L80.31,343.45 L80.32,343.28 L80.33,343.10 L80.34,342.93 L80.35,342.76 L80.37,342.58 L80.38,342.41 L80.39,342.24 L80.40,342.07 L80.41,341.90 L80.43,341.73 L80.44,341.56 L80.45,341.39 L80.46,341.22 L80.47,341.05 L80.49,340.88 L80.50,340.71 L80.51,340.54 L80.52,340.37 L80.53,340.21 L80.55,340.04 L80.56,339.87 L80.57,339.71 L80.58,339.54 L80.59,339.38 L80.61,339.21 L80.62,339.05 L80.63,338.88 L80.64,338.72 L80.65,338.56 L80.67,338.39 L80.68,338.23 L80.69,338.07 L80.70,337.91 L80.71,337.74 L80.73,337.58 L80.74,337.42 L80.75,337.26 L80.76,337.10 L80.78,336.94 L80.79,336.78 L80.80,336.63 L80.81,336.47 L80.82,336.31 L80.84,336.15 L80.85,335.99 L80.86,335.84 L80.87,335.68 L80.88,335.52 L80.90,335.37 L80.91,335.21 L80.92,335.06 L80.93,334.90 L80.94,334.75 L80.96,334.59 L80.97,334.44 L80.98,334.28 L80.99,334.13 L81.00,333.98 L81.02,333.83 L81.03,333.67 L81.04,333.52 L81.05,333.37 L81.06,333.22 L81.08,333.07 L81.09,332.92 L81.10,332.77 L81.11,332.62 L81.12,332.47 L81.14,332.32 L81.15,332.17 L81.16,332.02 L81.17,331.87 L81.18,331.72 L81.20,331.58 L81.21,331.43 L81.22,331.28 L81.23,331.13 L81.24,330.99 L81.26,330.84 L81.27,330.70 L81.28,330.55 L81.29,330.41 L81.31,330.26 L81.32,330.12 L81.33,329.97 L81.34,329.83 L81.35,329.68 L81.37,329.54 L81.38,329.40 L81.39,329.25 L81.40,329.11 L81.41,328.97 L81.43,328.83 L81.44,328.69 L81.45,328.54 L81.46,328.40 L81.47,328.26 L81.49,328.12 L81.50,327.98 L81.51,327.84 L81.52,327.70 L81.53,327.56 L81.55,327.42 L81.56,327.28 L81.57,327.14 L81.58,327.01 L82.18,320.43 L82.78,314.43 L83.38,308.90 L83.98,303.77 L84.58,299.00 L85.18,294.53 L85.78,290.33 L86.38,286.37 L86.99,282.62 L87.59,279.07 L88.19,275.68 L88.79,272.45 L89.39,269.37 L89.99,266.41 L90.59,263.58 L91.19,260.85 L91.79,258.23 L92.39,255.70 L92.99,253.27 L93.59,250.91 L94.19,248.63 L94.79,246.42 L95.39,244.28 L95.99,242.21 L96.59,240.19 L97.19,238.23 L97.79,236.32 L98.39,234.47 L98.99,232.66 L99.59,230.90 L100.19,229.18 L100.79,227.50 L101.39,225.87 L101.99,224.27 L102.59,222.70 L103.20,221.17 L103.80,219.67 L104.40,218.21 L105.00,216.77 L105.60,215.37 L106.20,213.99 L106.80,212.64 L107.40,211.31 L108.00,210.01 L108.60,208.73 L109.20,207.47 L109.80,206.24 L110.40,205.03 L111.00,203.84 L111.60,202.67 L112.20,201.52 L112.80,200.38 L113.40,199.27 L114.00,198.17 L114.60,197.09 L115.20,196.03 L115.80,194.98 L116.40,193.95 L117.00,192.93 L117.60,191.93 L118.20,190.94 L118.80,189.96 L119.41,189.00 L120.01,188.06 L120.61,187.12 L121.21,186.20 L121.81,185.29 L122.41,184.39 L123.01,183.50 L123.61,182.62 L124.21,181.76 L124.81,180.90 L125.41,180.06 L126.01,179.22 L126.61,178.40 L127.21,177.58 L127.81,176.77 L128.41,175.98 L129.01,175.19 L129.61,174.41 L130.21,173.64 L130.81,172.88 L131.41,172.13 L132.01,171.38 L132.61,170.64 L133.21,169.91 L133.81,169.19 L134.41,168.47 L135.01,167.77 L135.62,167.07 L136.22,166.37 L136.82,165.68 L137.42,165.00 L138.02,164.33 L138.62,163.66 L139.22,163.00 L139.82,162.35 L140.42,161.70 L141.02,161.06 L141.62,160.42 L142.22,159.79 L142.82,159.16 L143.42,158.54 L144.02,157.93 L144.62,157.32 L145.22,156.72 L145.82,156.12 L146.42,155.52 L147.02,154.94 L147.62,154.35 L148.22,153.77 L148.82,153.20 L149.42,152.63 L150.02,152.07 L150.62,151.50 L151.22,150.95 L151.83,150.40 L152.43,149.85 L153.03,149.31 L153.63,148.77 L154.23,148.24 L154.83,147.70 L155.43,147.18 L156.03,146.66 L156.63,146.14 L157.23,145.62 L157.83,145.11 L158.43,144.60 L159.03,144.10 L159.63,143.60 L160.23,143.10 L160.83,142.61 L161.43,142.12 L162.03,141.64 L162.63,141.15 L163.23,140.67 L163.83,140.20 L164.43,139.72 L165.03,139.25 L165.63,138.79 L166.23,138.32 L166.83,137.86 L167.43,137.41 L168.04,136.95 L168.64,136.50 L169.24,136.05 L169.84,135.61 L170.44,135.16 L171.04,134.72 L171.64,134.29 L172.24,133.85 L172.84,133.42 L173.44,132.99 L174.04,132.56 L174.64,132.14 L175.24,131.72 L175.84,131.30 L176.44,130.88 L177.04,130.47 L177.64,130.06 L178.24,129.65 L178.84,129.24 L179.44,128.84 L180.04,128.43 L180.64,128.04 L181.24,127.64 L181.84,127.24 L182.44,126.85 L183.04,126.46 L183.64,126.07 L184.25,125.68 L184.85,125.30 L185.45,124.92 L186.05,124.54 L186.65,124.16 L187.25,123.78 L187.85,123.41 L188.45,123.04 L189.05,122.67 L189.65,122.30 L190.25,121.93 L190.85,121.57 L191.45,121.20 L192.05,120.84 L192.65,120.49 L193.25,120.13 L193.85,119.77 L194.45,119.42 L195.05,119.07 L195.65,118.72 L196.25,118.37 L196.85,118.02 L197.45,117.68 L198.05,117.34 L198.65,117.00 L199.25,116.66 L199.85,116.32 L200.46,115.98 L201.06,115.65 L201.66,115.31 L202.26,114.98 L202.86,114.65 L203.46,114.33 L204.06,114.00 L204.66,113.67 L205.26,113.35 L205.86,113.03 L206.46,112.71 L207.06,112.39 L207.66,112.07 L208.26,111.75 L208.86,111.44 L209.46,111.12 L210.06,110.81 L210.66,110.50 L211.26,110.19 L211.86,109.88 L212.46,109.58 L213.06,109.27 L213.66,108.97 L214.26,108.66 L214.86,108.36 L215.46,108.06 L216.06,107.76 L216.67,107.47 L217.27,107.17 L217.87,106.88 L218.47,106.58 L219.07,106.29 L219.67,106.00 L220.27,105.71 L220.87,105.42 L221.47,105.13 L222.07,104.84 L222.67,104.56 L223.27,104.27 L223.87,103.99 L224.47,103.71 L225.07,103.43 L225.67,103.15 L226.27,102.87 L226.87,102.59 L227.47,102.32 L228.07,102.04 L228.67,101.77 L229.27,101.49 L229.87,101.22 L230.47,100.95 L231.07,100.68 L231.67,100.41 L232.27,100.14 L232.88,99.88 L233.48,99.61 L234.08,99.35 L234.68,99.08 L235.28,98.82 L235.88,98.56 L236.48,98.30 L237.08,98.04 L237.68,97.78 L238.28,97.52 L238.88,97.26 L239.48,97.01 L240.08,96.75 L240.68,96.50 L241.28,96.25 L241.88,95.99 L242.48,95.74 L243.08,95.49 L243.68,95.24 L244.28,94.99 L244.88,94.74 L245.48,94.50 L246.08,94.25 L246.68,94.01 L247.28,93.76 L247.88,93.52 L248.48,93.28 L249.08,93.03 L249.69,92.79 L250.29,92.55 L250.89,92.31 L251.49,92.07 L252.09,91.84 L252.69,91.60 L253.29,91.36 L253.89,91.13 L254.49,90.89 L255.09,90.66 L255.69,90.43 L256.29,90.19 L256.89,89.96 L257.49,89.73 L258.09,89.50 L258.69,89.27 L259.29,89.04 L259.89,88.82 L260.49,88.59 L261.09,88.36 L261.69,88.14 L262.29,87.91 L262.89,87.69 L263.49,87.47 L264.09,87.24 L264.69,87.02 L265.29,86.80 L265.90,86.58 L266.50,86.36 L267.10,86.14 L267.70,85.92 L268.30,85.71 L268.90,85.49 L269.50,85.27 L270.10,85.06 L270.70,84.84 L271.30,84.63 L271.90,84.41 L272.50,84.20 L273.10,83.99 L273.70,83.78 L274.30,83.56 L274.90,83.35 L275.50,83.14 L276.10,82.93 L276.70,82.73 L277.30,82.52 L277.90,82.31 L278.50,82.10 L279.10,81.90 L279.70,81.69 L280.30,81.49 L280.90,81.28 L281.50,81.08 L282.11,80.88 L282.71,80.67 L283.31,80.47 L283.91,80.27 L284.51,80.07 L285.11,79.87 L285.71,79.67 L286.31,79.47 L286.91,79.27 L287.51,79.07 L288.11,78.88 L288.71,78.68 L289.31,78.48 L289.91,78.29 L290.51,78.09 L291.11,77.90 L291.71,77.70 L292.31,77.51 L292.91,77.32 L293.51,77.12 L294.11,76.93 L294.71,76.74 L295.31,76.55 L295.91,76.36 L296.51,76.17 L297.11,75.98 L297.71,75.79 L298.32,75.60 L298.92,75.41 L299.52,75.23 L300.12,75.04 L300.72,74.85 L301.32,74.67 L301.92,74.48 L302.52,74.30 L303.12,74.11 L303.72,73.93 L304.32,73.75 L304.92,73.56 L305.52,73.38 L306.12,73.20 L306.72,73.02 L307.32,72.84 L307.92,72.66 L308.52,72.48 L309.12,72.30 L309.72,72.12 L310.32,71.94 L310.92,71.76 L311.52,71.58 L312.12,71.40 L312.72,71.23 L313.32,71.05 L313.92,70.88 L314.53,70.70 L315.13,70.52 L315.73,70.35 L316.33,70.18 L316.93,70.00 L317.53,69.83 L318.13,69.66 L318.73,69.48 L319.33,69.31 L319.93,69.14 L320.53,68.97 L321.13,68.80 L321.73,68.63 L322.33,68.46 L322.93,68.29 L323.53,68.12 L324.13,67.95 L324.73,67.78 L325.33,67.61 L325.93,67.45 L326.53,67.28 L327.13,67.11 L327.73,66.94 L328.33,66.78 L328.93,66.61 L329.53,66.45 L330.13,66.28 L330.74,66.12 L331.34,65.95 L331.94,65.79 L332.54,65.63 L333.14,65.47 L333.74,65.30 L334.34,65.14 L334.94,64.98 L335.54,64.82 L336.14,64.66 L336.74,64.50 L337.34,64.34 L337.94,64.18 L338.54,64.02 L339.14,63.86 L339.74,63.70 L340.34,63.54 L340.94,63.38 L341.54,63.22 L342.14,63.07 L342.74,62.91 L343.34,62.75 L343.94,62.60 L344.54,62.44 L345.14,62.28 L345.74,62.13 L346.34,61.97 L346.95,61.82 L347.55,61.67 L348.15,61.51 L348.75,61.36 L349.35,61.21 L349.95,61.05 L350.55,60.90 L351.15,60.75 L351.75,60.60 L352.35,60.44 L352.95,60.29 L353.55,60.14 L354.15,59.99 L354.75,59.84 L355.35,59.69 L355.95,59.54 L356.55,59.39 L357.15,59.24 L357.75,59.09 L358.35,58.95 L358.95,58.80 L359.55,58.65" stroke="#ff0000" stroke-width="3" stroke-linecap="round" stroke-dasharray="1.3 13.825" stroke-dashoffset="-1.70"/>
<path d="M359.55,58.65 L360.15,58.50 L360.75,58.36 L361.35,58.21 L361.95,58.06 L362.55,57.92 L363.16,57.77 L363.76,57.63 L364.36,57.48 L364.96,57.33 L365.56,57.19 L366.16,57.05 L366.76,56.90 L367.36,56.76 L367.96,56.61 L368.56,56.47 L369.16,56.33 L369.76,56.19 L370.36,56.04 L370.96,55.90 L371.56,55.76 L372.16,55.62 L372.76,55.48 L373.36,55.34 L373.96,55.20 L374.56,55.06 L375.16,54.92 L375.76,54.78 L376.36,54.64 L376.96,54.50 L377.56,54.36 L378.16,54.22 L378.76,54.08 L379.37,53.94 L379.97,53.81 L380.57,53.67 L381.17,53.53 L381.77,53.39 L382.37,53.26 L382.97,53.12 L383.57,52.98 L384.17,52.85 L384.77,52.71 L385.37,52.58 L385.97,52.44 L386.57,52.31 L387.17,52.17 L387.77,52.04 L388.37,51.90 L388.97,51.77 L389.57,51.64 L390.17,51.50 L390.77,51.37 L391.37,51.24 L391.97,51.11 L392.57,50.97 L393.17,50.84 L393.77,50.71 L394.37,50.58 L394.97,50.45 L395.58,50.31 L396.18,50.18 L396.78,50.05 L397.38,49.92 L397.98,49.79 L398.58,49.66 L399.18,49.53 L399.78,49.40 L400.38,49.28 L400.98,49.15 L401.58,49.02 L402.18,48.89 L402.78,48.76 L403.38,48.63 L403.98,48.51 L404.58,48.38 L405.18,48.25 L405.78,48.12 L406.38,48.00 L406.98,47.87 L407.58,47.74 L408.18,47.62 L408.78,47.49 L409.38,47.37 L409.98,47.24 L410.58,47.12 L411.18,46.99 L411.79,46.87 L412.39,46.74 L412.99,46.62 L413.59,46.49 L414.19,46.37 L414.79,46.25 L415.39,46.12 L415.99,46.00 L416.59,45.88 L417.19,45.75 L417.79,45.63 L418.39,45.51 L418.99,45.39 L419.59,45.26 L420.19,45.14 L420.79,45.02 L421.39,44.90 L421.99,44.78 L422.59,44.66 L423.19,44.54 L423.79,44.42 L424.39,44.30 L424.99,44.18 L425.59,44.06 L426.19,43.94 L426.79,43.82 L427.39,43.70 L427.99,43.58 L428.60,43.46 L429.20,43.34 L429.80,43.22 L430.40,43.11 L431.00,42.99 L431.60,42.87 L432.20,42.75 L432.80,42.63 L433.40,42.52 L434.00,42.40 L434.60,42.28 L435.20,42.17 L435.80,42.05 L436.40,41.93 L437.00,41.82 L437.60,41.70 L438.20,41.59 L438.80,41.47 L439.40,41.36 L440.00,41.24 L440.60,41.13 L441.20,41.01 L441.80,40.90 L442.40,40.78 L443.00,40.67 L443.60,40.55 L444.20,40.44 L444.81,40.33 L445.41,40.21 L446.01,40.10 L446.61,39.99 L447.21,39.87 L447.81,39.76 L448.41,39.65 L449.01,39.54 L449.61,39.42 L450.21,39.31 L450.81,39.20 L451.41,39.09 L452.01,38.98 L452.61,38.87 L453.21,38.76 L453.81,38.64 L454.41,38.53 L455.01,38.42 L455.61,38.31 L456.21,38.20 L456.81,38.09 L457.41,37.98 L458.01,37.87 L458.61,37.76 L459.21,37.65 L459.81,37.55 L460.41,37.44 L461.02,37.33 L461.62,37.22 L462.22,37.11 L462.82,37.00 L463.42,36.89 L464.02,36.79 L464.62,36.68 L465.22,36.57 L465.82,36.46 L466.42,36.36 L467.02,36.25 L467.62,36.14 L468.22,36.03 L468.82,35.93 L469.42,35.82 L470.02,35.72 L470.62,35.61 L471.22,35.50 L471.82,35.40 L472.42,35.29 L473.02,35.19 L473.62,35.08 L474.22,34.98 L474.82,34.87 L475.42,34.77 L476.02,34.66 L476.62,34.56 L477.23,34.45 L477.83,34.35 L478.43,34.24 L479.03,34.14 L479.63,34.04 L480.23,33.93 L480.83,33.83 L481.43,33.73 L482.03,33.62 L482.63,33.52 L483.23,33.42 L483.83,33.31 L484.43,33.21 L485.03,33.11 L485.63,33.01 L486.23,32.90 L486.83,32.80 L487.43,32.70 L488.03,32.60 L488.63,32.50 L489.23,32.40 L489.83,32.29 L490.43,32.19 L491.03,32.09 L491.63,31.99 L492.23,31.89 L492.83,31.79 L493.44,31.69 L494.04,31.59 L494.64,31.49 L495.24,31.39 L495.84,31.29 L496.44,31.19 L497.04,31.09 L497.64,30.99 L498.24,30.89 L498.84,30.79 L499.44,30.69 L500.04,30.60 L500.64,30.50 L501.24,30.40" stroke="#ff0000" stroke-width="3" stroke-linecap="round" stroke-dasharray="1.3 13.825" stroke-dashoffset="-3.97"/>
<path d="M75.50,358.40 L75.53,357.98 L75.56,357.62 L75.59,357.27 L75.62,356.94 L75.65,356.62 L75.68,356.30 L75.71,356.00 L75.74,355.69 L75.78,355.39 L75.81,355.10 L75.84,354.81 L75.87,354.52 L75.90,354.23 L75.93,353.95 L75.96,353.67 L75.99,353.39 L76.02,353.11 L76.05,352.84 L76.08,352.57 L76.11,352.30 L76.14,352.03 L76.17,351.76 L76.20,351.50 L76.23,351.23 L76.26,350.97 L76.29,350.71 L76.33,350.45 L76.36,350.19 L76.39,349.94 L76.42,349.68 L76.45,349.43 L76.48,349.17 L76.51,348.92 L76.54,348.67 L76.57,348.42 L76.60,348.17 L76.63,347.93 L76.66,347.68 L76.69,347.43 L76.72,347.19 L76.75,346.95 L76.78,346.70 L76.81,346.46 L76.84,346.22 L76.88,345.98 L76.91,345.74 L76.94,345.51 L76.97,345.27 L77.00,345.03 L77.03,344.80 L77.06,344.56 L77.09,344.33 L77.12,344.09 L77.15,343.86 L77.18,343.63 L77.21,343.40 L77.24,343.17 L77.27,342.94 L77.30,342.71 L77.33,342.48 L77.36,342.25 L77.39,342.03 L77.43,341.80 L77.46,341.58 L77.49,341.35 L77.52,341.13 L77.55,340.90 L77.58,340.68 L77.61,340.46 L77.64,340.24 L77.67,340.01 L77.70,339.79 L77.73,339.57 L77.76,339.35 L77.79,339.14 L77.82,338.92 L77.85,338.70 L77.88,338.48 L77.91,338.27 L77.95,338.05 L77.98,337.83 L78.01,337.62 L78.04,337.41 L78.07,337.19 L78.10,336.98 L78.13,336.77 L78.16,336.55 L78.19,336.34 L78.22,336.13 L78.25,335.92 L78.28,335.71 L78.31,335.50 L78.34,335.29 L78.37,335.08 L78.40,334.87 L78.43,334.66 L78.46,334.46 L78.50,334.25 L78.53,334.04 L78.56,333.84 L78.59,333.63 L78.62,333.43 L78.65,333.22 L78.68,333.02 L78.71,332.81 L78.74,332.61 L78.77,332.41 L78.80,332.20 L78.83,332.00 L78.86,331.80 L78.89,331.60 L78.92,331.40 L78.95,331.20 L78.98,331.00 L79.01,330.80 L79.05,330.60 L79.08,330.40 L79.11,330.20 L79.14,330.00 L79.17,329.81 L79.20,329.61 L79.23,329.41 L79.26,329.22 L79.29,329.02 L79.32,328.82 L79.35,328.63 L79.38,328.43 L79.41,328.24 L79.44,328.05 L79.47,327.85 L79.50,327.66 L79.53,327.47 L79.56,327.27 L79.60,327.08 L79.63,326.89 L79.66,326.70 L79.69,326.51 L79.72,326.31 L79.75,326.12 L79.78,325.93 L79.81,325.74 L79.84,325.56 L79.87,325.37 L79.90,325.18 L79.93,324.99 L79.96,324.80 L79.99,324.61 L80.02,324.43 L80.05,324.24 L80.08,324.05 L80.11,323.87 L80.15,323.68 L80.18,323.49 L80.21,323.31 L80.24,323.12 L80.27,322.94 L80.30,322.75 L80.33,322.57 L80.36,322.39 L80.39,322.20 L80.42,322.02 L80.45,321.84 L80.48,321.65 L80.51,321.47 L80.54,321.29 L80.57,321.11 L80.60,320.93 L80.63,320.75 L80.67,320.57 L80.70,320.39 L80.73,320.21 L80.76,320.03 L80.79,319.85 L80.82,319.67 L80.85,319.49 L80.88,319.31 L80.91,319.13 L80.94,318.95 L80.97,318.78 L81.00,318.60 L81.03,318.42 L81.06,318.25 L81.09,318.07 L81.12,317.89 L81.15,317.72 L81.18,317.54 L81.22,317.37 L81.25,317.19 L81.28,317.02 L81.31,316.84 L81.34,316.67 L81.37,316.49 L81.40,316.32 L81.43,316.15 L81.46,315.97 L81.49,315.80 L81.52,315.63 L81.55,315.46 L81.58,315.28 L82.18,311.96 L82.78,308.73 L83.38,305.59 L83.98,302.53 L84.58,299.55 L85.18,296.65 L85.78,293.82 L86.38,291.05 L86.99,288.35 L87.59,285.72 L88.19,283.14 L88.79,280.61 L89.39,278.14 L89.99,275.73 L90.59,273.36 L91.19,271.04 L91.79,268.76 L92.39,266.53 L92.99,264.35 L93.59,262.20 L94.19,260.09 L94.79,258.03 L95.39,255.99 L95.99,254.00 L96.59,252.04 L97.19,250.12 L97.79,248.22 L98.39,246.36 L98.99,244.53 L99.59,242.74 L100.19,240.97 L100.79,239.22 L101.39,237.51 L101.99,235.82 L102.59,234.16 L103.20,232.53 L103.80,230.92 L104.40,229.33 L105.00,227.77 L105.60,226.23 L106.20,224.72 L106.80,223.22 L107.40,221.75 L108.00,220.30 L108.60,218.86 L109.20,217.45 L109.80,216.06 L110.40,214.69 L111.00,213.33 L111.60,212.00 L112.20,210.68 L112.80,209.38 L113.40,208.09 L114.00,206.83 L114.60,205.57 L115.20,204.34 L115.80,203.12 L116.40,201.92 L117.00,200.73 L117.60,199.55 L118.20,198.39 L118.80,197.25 L119.41,196.12 L120.01,195.00 L120.61,193.89 L121.21,192.80 L121.81,191.72 L122.41,190.65 L123.01,189.60 L123.61,188.56 L124.21,187.53 L124.81,186.51 L125.41,185.50 L126.01,184.51 L126.61,183.52 L127.21,182.55 L127.81,181.58 L128.41,180.63 L129.01,179.69 L129.61,178.76 L130.21,177.83 L130.81,176.92 L131.41,176.02 L132.01,175.13 L132.61,174.24 L133.21,173.37 L133.81,172.50 L134.41,171.64 L135.01,170.79 L135.62,169.95 L136.22,169.12 L136.82,168.30 L137.42,167.48 L138.02,166.68 L138.62,165.88 L139.22,165.09 L139.82,164.30 L140.42,163.53 L141.02,162.76 L141.62,162.00 L142.22,161.24 L142.82,160.49 L143.42,159.75 L144.02,159.02 L144.62,158.29 L145.22,157.57 L145.82,156.86 L146.42,156.15 L147.02,155.45 L147.62,154.76 L148.22,154.07 L148.82,153.39 L149.42,152.71 L150.02,152.04 L150.62,151.38 L151.22,150.72 L151.83,150.07 L152.43,149.42 L153.03,148.78 L153.63,148.15 L154.23,147.52 L154.83,146.89 L155.43,146.27 L156.03,145.66 L156.63,145.05 L157.23,144.45 L157.83,143.85 L158.43,143.25 L159.03,142.66 L159.63,142.08 L160.23,141.50 L160.83,140.92 L161.43,140.35 L162.03,139.79 L162.63,139.23 L163.23,138.67 L163.83,138.12 L164.43,137.57 L165.03,137.02 L165.63,136.48 L166.23,135.95 L166.83,135.42 L167.43,134.89 L168.04,134.37 L168.64,133.85 L169.24,133.33 L169.84,132.82 L170.44,132.31 L171.04,131.81 L171.64,131.31 L172.24,130.81 L172.84,130.32 L173.44,129.83 L174.04,129.35 L174.64,128.87 L175.24,128.39 L175.84,127.91 L176.44,127.44 L177.04,126.97 L177.64,126.51 L178.24,126.05 L178.84,125.59 L179.44,125.13 L180.04,124.68 L180.64,124.23 L181.24,123.79 L181.84,123.35 L182.44,122.91 L183.04,122.47 L183.64,122.04 L184.25,121.61 L184.85,121.18 L185.45,120.76 L186.05,120.34 L186.65,119.92 L187.25,119.50 L187.85,119.09 L188.45,118.68 L189.05,118.27 L189.65,117.87 L190.25,117.46 L190.85,117.06 L191.45,116.67 L192.05,116.27 L192.65,115.88 L193.25,115.49 L193.85,115.11 L194.45,114.72 L195.05,114.34 L195.65,113.96 L196.25,113.58 L196.85,113.21 L197.45,112.84 L198.05,112.47 L198.65,112.10 L199.25,111.74 L199.85,111.37 L200.46,111.01 L201.06,110.65 L201.66,110.30 L202.26,109.94 L202.86,109.59 L203.46,109.24 L204.06,108.89 L204.66,108.55 L205.26,108.21 L205.86,107.87 L206.46,107.53 L207.06,107.19 L207.66,106.85 L208.26,106.52 L208.86,106.19 L209.46,105.86 L210.06,105.53 L210.66,105.21 L211.26,104.88 L211.86,104.56 L212.46,104.24 L213.06,103.92 L213.66,103.61 L214.26,103.29 L214.86,102.98 L215.46,102.67 L216.06,102.36 L216.67,102.06 L217.27,101.75 L217.87,101.45 L218.47,101.14 L219.07,100.84 L219.67,100.55 L220.27,100.25 L220.87,99.95 L221.47,99.66 L222.07,99.37 L222.67,99.08 L223.27,98.79 L223.87,98.50 L224.47,98.22 L225.07,97.93 L225.67,97.65 L226.27,97.37 L226.87,97.09 L227.47,96.81 L228.07,96.53 L228.67,96.26 L229.27,95.99 L229.87,95.71 L230.47,95.44 L231.07,95.17 L231.67,94.91 L232.27,94.64 L232.88,94.38 L233.48,94.11 L234.08,93.85 L234.68,93.59 L235.28,93.33 L235.88,93.07 L236.48,92.81 L237.08,92.56 L237.68,92.30 L238.28,92.05 L238.88,91.80 L239.48,91.55 L240.08,91.30 L240.68,91.05 L241.28,90.81 L241.88,90.56 L242.48,90.32 L243.08,90.07 L243.68,89.83 L244.28,89.59 L244.88,89.35 L245.48,89.11 L246.08,88.88 L246.68,88.64 L247.28,88.41 L247.88,88.17 L248.48,87.94 L249.08,87.71 L249.69,87.48 L250.29,87.25 L250.89,87.02 L251.49,86.79 L252.09,86.57 L252.69,86.34 L253.29,86.12 L253.89,85.90 L254.49,85.68 L255.09,85.46 L255.69,85.24 L256.29,85.02 L256.89,84.80 L257.49,84.59 L258.09,84.37 L258.69,84.16 L259.29,83.94 L259.89,83.73 L260.49,83.52 L261.09,83.31 L261.69,83.10 L262.29,82.89 L262.89,82.68 L263.49,82.48 L264.09,82.27 L264.69,82.07 L265.29,81.86 L265.90,81.66 L266.50,81.46 L267.10,81.26 L267.70,81.06 L268.30,80.86 L268.90,80.66 L269.50,80.46 L270.10,80.27 L270.70,80.07 L271.30,79.88 L271.90,79.68 L272.50,79.49 L273.10,79.30 L273.70,79.11 L274.30,78.91 L274.90,78.72 L275.50,78.54 L276.10,78.35 L276.70,78.16 L277.30,77.97 L277.90,77.79 L278.50,77.60 L279.10,77.42 L279.70,77.24 L280.30,77.05 L280.90,76.87 L281.50,76.69 L282.11,76.51 L282.71,76.33 L283.31,76.15 L283.91,75.98 L284.51,75.80 L285.11,75.62 L285.71,75.45 L286.31,75.27 L286.91,75.10 L287.51,74.92 L288.11,74.75 L288.71,74.58 L289.31,74.41 L289.91,74.24 L290.51,74.07 L291.11,73.90 L291.71,73.73 L292.31,73.56 L292.91,73.39 L293.51,73.23 L294.11,73.06 L294.71,72.90 L295.31,72.73 L295.91,72.57 L296.51,72.41 L297.11,72.24 L297.71,72.08 L298.32,71.92 L298.92,71.76 L299.52,71.60 L300.12,71.44 L300.72,71.28 L301.32,71.12 L301.92,70.97 L302.52,70.81 L303.12,70.65 L303.72,70.50 L304.32,70.34 L304.92,70.19 L305.52,70.03 L306.12,69.88 L306.72,69.73 L307.32,69.58 L307.92,69.42 L308.52,69.27 L309.12,69.12 L309.72,68.97 L310.32,68.83 L310.92,68.68 L311.52,68.53 L312.12,68.38 L312.72,68.23 L313.32,68.09 L313.92,67.94 L314.53,67.80 L315.13,67.65 L315.73,67.51 L316.33,67.37 L316.93,67.22 L317.53,67.08 L318.13,66.94 L318.73,66.80 L319.33,66.66 L319.93,66.51 L320.53,66.38 L321.13,66.24 L321.73,66.10 L322.33,65.96 L322.93,65.82 L323.53,65.68 L324.13,65.55 L324.73,65.41 L325.33,65.27 L325.93,65.14 L326.53,65.00 L327.13,64.87 L327.73,64.74 L328.33,64.60 L328.93,64.47 L329.53,64.34 L330.13,64.21 L330.74,64.07 L331.34,63.94 L331.94,63.81 L332.54,63.68 L333.14,63.55 L333.74,63.42 L334.34,63.29 L334.94,63.17 L335.54,63.04 L336.14,62.91 L336.74,62.78 L337.34,62.66 L337.94,62.53 L338.54,62.41 L339.14,62.28 L339.74,62.16 L340.34,62.03 L340.94,61.91 L341.54,61.79 L342.14,61.66 L342.74,61.54 L343.34,61.42 L343.94,61.30 L344.54,61.17 L345.14,61.05 L345.74,60.93 L346.34,60.81 L346.95,60.69 L347.55,60.57 L348.15,60.46 L348.75,60.34 L349.35,60.22 L349.95,60.10 L350.55,59.98 L351.15,59.87 L351.75,59.75 L352.35,59.63 L352.95,59.52 L353.55,59.40 L354.15,59.29 L354.75,59.17 L355.35,59.06 L355.95,58.95 L356.55,58.83 L357.15,58.72 L357.75,58.61 L358.35,58.49 L358.95,58.38 L359.55,58.27 L360.15,58.16 L360.75,58.05 L361.35,57.94 L361.95,57.83 L362.55,57.72 L363.16,57.61 L363.76,57.50 L364.36,57.39 L364.96,57.28 L365.56,57.17 L366.16,57.07 L366.76,56.96 L367.36,56.85 L367.96,56.75 L368.56,56.64 L369.16,56.53 L369.76,56.43 L370.36,56.32 L370.96,56.22 L371.56,56.11 L372.16,56.01 L372.76,55.90 L373.36,55.80 L373.96,55.70 L374.56,55.59 L375.16,55.49 L375.76,55.39 L376.36,55.29 L376.96,55.19 L377.56,55.08 L378.16,54.98 L378.76,54.88 L379.37,54.78 L379.97,54.68 L380.57,54.58 L381.17,54.48 L381.77,54.38 L382.37,54.28 L382.97,54.19 L383.57,54.09 L384.17,53.99 L384.77,53.89 L385.37,53.79 L385.97,53.70 L386.57,53.60 L387.17,53.50 L387.77,53.41 L388.37,53.31 L388.97,53.22 L389.57,53.12 L390.17,53.03 L390.77,52.93 L391.37,52.84 L391.97,52.74 L392.57,52.65 L393.17,52.55 L393.77,52.46 L394.37,52.37 L394.97,52.27 L395.58,52.18 L396.18,52.09 L396.78,52.00 L397.38,51.91 L397.98,51.81 L398.58,51.72 L399.18,51.63 L399.78,51.54 L400.38,51.45 L400.98,51.36 L401.58,51.27 L402.18,51.18 L402.78,51.09 L403.38,51.00 L403.98,50.91 L404.58,50.82 L405.18,50.74 L405.78,50.65 L406.38,50.56 L406.98,50.47 L407.58,50.39 L408.18,50.30 L408.78,50.21 L409.38,50.13 L409.98,50.04 L410.58,49.95 L411.18,49.87 L411.79,49.78 L412.39,49.70 L412.99,49.61 L413.59,49.53 L414.19,49.44 L414.79,49.36 L415.39,49.27 L415.99,49.19 L416.59,49.10 L417.19,49.02 L417.79,48.94 L418.39,48.85 L418.99,48.77 L419.59,48.69 L420.19,48.61 L420.79,48.52 L421.39,48.44 L421.99,48.36 L422.59,48.28 L423.19,48.20 L423.79,48.12 L424.39,48.04 L424.99,47.96 L425.59,47.88 L426.19,47.80 L426.79,47.72 L427.39,47.64 L427.99,47.56 L428.60,47.48 L429.20,47.40 L429.80,47.32 L430.40,47.24 L431.00,47.16 L431.60,47.08 L432.20,47.01 L432.80,46.93 L433.40,46.85 L434.00,46.77 L434.60,46.70 L435.20,46.62 L435.80,46.54 L436.40,46.47 L437.00,46.39 L437.60,46.31 L438.20,46.24 L438.80,46.16 L439.40,46.09 L440.00,46.01 L440.60,45.94 L441.20,45.86 L441.80,45.79 L442.40,45.71 L443.00,45.64 L443.60,45.56 L444.20,45.49 L444.81,45.42 L445.41,45.34 L446.01,45.27 L446.61,45.20 L447.21,45.12 L447.81,45.05 L448.41,44.98 L449.01,44.91 L449.61,44.83 L450.21,44.76 L450.81,44.69 L451.41,44.62 L452.01,44.55 L452.61,44.48 L453.21,44.40 L453.81,44.33 L454.41,44.26 L455.01,44.19 L455.61,44.12 L456.21,44.05 L456.81,43.98 L457.41,43.91 L458.01,43.84 L458.61,43.77 L459.21,43.70 L459.81,43.63 L460.41,43.57 L461.02,43.50 L461.62,43.43 L462.22,43.36 L462.82,43.29 L463.42,43.22 L464.02,43.16 L464.62,43.09 L465.22,43.02 L465.82,42.95 L466.42,42.89 L467.02,42.82 L467.62,42.75 L468.22,42.68 L468.82,42.62 L469.42,42.55 L470.02,42.49 L470.62,42.42 L471.22,42.35 L471.82,42.29 L472.42,42.22 L473.02,42.16 L473.62,42.09 L474.22,42.03 L474.82,41.96 L475.42,41.90 L476.02,41.83 L476.62,41.77 L477.23,41.70 L477.83,41.64 L478.43,41.57 L479.03,41.51 L479.63,41.45 L480.23,41.38 L480.83,41.32 L481.43,41.26 L482.03,41.19 L482.63,41.13 L483.23,41.07 L483.83,41.00 L484.43,40.94 L485.03,40.88 L485.63,40.82 L486.23,40.76 L486.83,40.69 L487.43,40.63 L488.03,40.57 L488.63,40.51 L489.23,40.45 L489.83,40.39 L490.43,40.33 L491.03,40.26 L491.63,40.20 L492.23,40.14 L492.83,40.08 L493.44,40.02 L494.04,39.96 L494.64,39.90 L495.24,39.84 L495.84,39.78 L496.44,39.72 L497.04,39.66 L497.64,39.60 L498.24,39.54 L498.84,39.49 L499.44,39.43 L500.04,39.37 L500.64,39.31 L501.24,39.25" stroke="#6caa20" stroke-width="2" stroke-dasharray="10.8 4.25 2.8 4.24" stroke-dashoffset="-16.86"/>
<path d="M75.50,358.40 L75.53,358.09 L75.56,357.79 L75.59,357.48 L75.62,357.18 L75.65,356.87 L75.68,356.57 L75.71,356.27 L75.74,355.97 L75.78,355.67 L75.81,355.38 L75.84,355.08 L75.87,354.79 L75.90,354.49 L75.93,354.20 L75.96,353.91 L75.99,353.62 L76.02,353.32 L76.05,353.04 L76.08,352.75 L76.11,352.46 L76.14,352.17 L76.17,351.89 L76.20,351.60 L76.23,351.32 L76.26,351.03 L76.29,350.75 L76.33,350.47 L76.36,350.19 L76.39,349.91 L76.42,349.63 L76.45,349.35 L76.48,349.08 L76.51,348.80 L76.54,348.52 L76.57,348.25 L76.60,347.97 L76.63,347.70 L76.66,347.43 L76.69,347.16 L76.72,346.88 L76.75,346.61 L76.78,346.34 L76.81,346.07 L76.84,345.81 L76.88,345.54 L76.91,345.27 L76.94,345.01 L76.97,344.74 L77.00,344.48 L77.03,344.21 L77.06,343.95 L77.09,343.69 L77.12,343.42 L77.15,343.16 L77.18,342.90 L77.21,342.64 L77.24,342.38 L77.27,342.13 L77.30,341.87 L77.33,341.61 L77.36,341.35 L77.39,341.10 L77.43,340.84 L77.46,340.59 L77.49,340.33 L77.52,340.08 L77.55,339.83 L77.58,339.58 L77.61,339.32 L77.64,339.07 L77.67,338.82 L77.70,338.57 L77.73,338.33 L77.76,338.08 L77.79,337.83 L77.82,337.58 L77.85,337.34 L77.88,337.09 L77.91,336.84 L77.95,336.60 L77.98,336.36 L78.01,336.11 L78.04,335.87 L78.07,335.63 L78.10,335.38 L78.13,335.14 L78.16,334.90 L78.19,334.66 L78.22,334.42 L78.25,334.18 L78.28,333.95 L78.31,333.71 L78.34,333.47 L78.37,333.23 L78.40,333.00 L78.43,332.76 L78.46,332.53 L78.50,332.29 L78.53,332.06 L78.56,331.82 L78.59,331.59 L78.62,331.36 L78.65,331.13 L78.68,330.89 L78.71,330.66 L78.74,330.43 L78.77,330.20 L78.80,329.97 L78.83,329.74 L78.86,329.52 L78.89,329.29 L78.92,329.06 L78.95,328.83 L78.98,328.61 L79.01,328.38 L79.05,328.16 L79.08,327.93 L79.11,327.71 L79.14,327.48 L79.17,327.26 L79.20,327.04 L79.23,326.81 L79.26,326.59 L79.29,326.37 L79.32,326.15 L79.35,325.93 L79.38,325.71 L79.41,325.49 L79.44,325.27 L79.47,325.05 L79.50,324.83 L79.53,324.61 L79.56,324.40 L79.60,324.18 L79.63,323.96 L79.66,323.75 L79.69,323.53 L79.72,323.32 L79.75,323.10 L79.78,322.89 L79.81,322.67 L79.84,322.46 L79.87,322.25 L79.90,322.04 L79.93,321.82 L79.96,321.61 L79.99,321.40 L80.02,321.19 L80.05,320.98 L80.08,320.77 L80.11,320.56 L80.15,320.35 L80.18,320.14 L80.21,319.93 L80.24,319.73 L80.27,319.52 L80.30,319.31 L80.33,319.11 L80.36,318.90 L80.39,318.69 L80.42,318.49 L80.45,318.28 L80.48,318.08 L80.51,317.88 L80.54,317.67 L80.57,317.47 L80.60,317.27 L80.63,317.06 L80.67,316.86 L80.70,316.66 L80.73,316.46 L80.76,316.26 L80.79,316.06 L80.82,315.86 L80.85,315.66 L80.88,315.46 L80.91,315.26 L80.94,315.06 L80.97,314.86 L81.00,314.66 L81.03,314.47 L81.06,314.27 L81.09,314.07 L81.12,313.88 L81.15,313.68 L81.18,313.48 L81.22,313.29 L81.25,313.09 L81.28,312.90 L81.31,312.71 L81.34,312.51 L81.37,312.32 L81.40,312.13 L81.43,311.93 L81.46,311.74 L81.49,311.55 L81.52,311.36 L81.55,311.17 L81.58,310.98 L82.18,307.30 L82.78,303.74 L83.38,300.31 L83.98,296.99 L84.58,293.78 L85.18,290.66 L85.78,287.64 L86.38,284.71 L86.99,281.86 L87.59,279.09 L88.19,276.39 L88.79,273.77 L89.39,271.22 L89.99,268.73 L90.59,266.31 L91.19,263.94 L91.79,261.63 L92.39,259.38 L92.99,257.18 L93.59,255.03 L94.19,252.93 L94.79,250.87 L95.39,248.86 L95.99,246.89 L96.59,244.97 L97.19,243.08 L97.79,241.23 L98.39,239.42 L98.99,237.65 L99.59,235.90 L100.19,234.20 L100.79,232.52 L101.39,230.87 L101.99,229.26 L102.59,227.67 L103.20,226.12 L103.80,224.59 L104.40,223.08 L105.00,221.60 L105.60,220.15 L106.20,218.72 L106.80,217.32 L107.40,215.94 L108.00,214.57 L108.60,213.24 L109.20,211.92 L109.80,210.62 L110.40,209.34 L111.00,208.08 L111.60,206.84 L112.20,205.62 L112.80,204.42 L113.40,203.23 L114.00,202.06 L114.60,200.91 L115.20,199.77 L115.80,198.65 L116.40,197.55 L117.00,196.46 L117.60,195.38 L118.20,194.32 L118.80,193.27 L119.41,192.24 L120.01,191.21 L120.61,190.21 L121.21,189.21 L121.81,188.23 L122.41,187.26 L123.01,186.30 L123.61,185.35 L124.21,184.41 L124.81,183.49 L125.41,182.57 L126.01,181.67 L126.61,180.78 L127.21,179.89 L127.81,179.02 L128.41,178.16 L129.01,177.31 L129.61,176.46 L130.21,175.63 L130.81,174.80 L131.41,173.99 L132.01,173.18 L132.61,172.38 L133.21,171.59 L133.81,170.80 L134.41,170.03 L135.01,169.26 L135.62,168.50 L136.22,167.75 L136.82,167.01 L137.42,166.27 L138.02,165.54 L138.62,164.82 L139.22,164.11 L139.82,163.40 L140.42,162.70 L141.02,162.00 L141.62,161.31 L142.22,160.63 L142.82,159.96 L143.42,159.29 L144.02,158.63 L144.62,157.97 L145.22,157.32 L145.82,156.67 L146.42,156.03 L147.02,155.40 L147.62,154.77 L148.22,154.15 L148.82,153.53 L149.42,152.92 L150.02,152.31 L150.62,151.71 L151.22,151.11 L151.83,150.52 L152.43,149.93 L153.03,149.35 L153.63,148.77 L154.23,148.20 L154.83,147.63 L155.43,147.07 L156.03,146.51 L156.63,145.96 L157.23,145.41 L157.83,144.86 L158.43,144.32 L159.03,143.78 L159.63,143.25 L160.23,142.72 L160.83,142.20 L161.43,141.67 L162.03,141.16 L162.63,140.64 L163.23,140.13 L163.83,139.63 L164.43,139.13 L165.03,138.63 L165.63,138.13 L166.23,137.64 L166.83,137.15 L167.43,136.67 L168.04,136.19 L168.64,135.71 L169.24,135.23 L169.84,134.76 L170.44,134.30 L171.04,133.83 L171.64,133.37 L172.24,132.91 L172.84,132.46 L173.44,132.00 L174.04,131.56 L174.64,131.11 L175.24,130.67 L175.84,130.23 L176.44,129.79 L177.04,129.35 L177.64,128.92 L178.24,128.49 L178.84,128.07 L179.44,127.64 L180.04,127.22 L180.64,126.80 L181.24,126.39 L181.84,125.98 L182.44,125.57 L183.04,125.16 L183.64,124.75 L184.25,124.35 L184.85,123.95 L185.45,123.55 L186.05,123.15 L186.65,122.76 L187.25,122.37 L187.85,121.98 L188.45,121.60 L189.05,121.21 L189.65,120.83 L190.25,120.45 L190.85,120.07 L191.45,119.70 L192.05,119.32 L192.65,118.95 L193.25,118.58 L193.85,118.22 L194.45,117.85 L195.05,117.49 L195.65,117.13 L196.25,116.77 L196.85,116.41 L197.45,116.06 L198.05,115.71 L198.65,115.35 L199.25,115.01 L199.85,114.66 L200.46,114.31 L201.06,113.97 L201.66,113.63 L202.26,113.29 L202.86,112.95 L203.46,112.61 L204.06,112.28 L204.66,111.95 L205.26,111.62 L205.86,111.29 L206.46,110.96 L207.06,110.63 L207.66,110.31 L208.26,109.99 L208.86,109.66 L209.46,109.35 L210.06,109.03 L210.66,108.71 L211.26,108.40 L211.86,108.08 L212.46,107.77 L213.06,107.46 L213.66,107.15 L214.26,106.85 L214.86,106.54 L215.46,106.24 L216.06,105.93 L216.67,105.63 L217.27,105.33 L217.87,105.03 L218.47,104.74 L219.07,104.44 L219.67,104.15 L220.27,103.85 L220.87,103.56 L221.47,103.27 L222.07,102.98 L222.67,102.70 L223.27,102.41 L223.87,102.13 L224.47,101.84 L225.07,101.56 L225.67,101.28 L226.27,101.00 L226.87,100.72 L227.47,100.44 L228.07,100.17 L228.67,99.89 L229.27,99.62 L229.87,99.35 L230.47,99.08 L231.07,98.81 L231.67,98.54 L232.27,98.27 L232.88,98.00 L233.48,97.74 L234.08,97.47 L234.68,97.21 L235.28,96.95 L235.88,96.69 L236.48,96.43 L237.08,96.17 L237.68,95.91 L238.28,95.65 L238.88,95.40 L239.48,95.14 L240.08,94.89 L240.68,94.64 L241.28,94.39 L241.88,94.14 L242.48,93.89 L243.08,93.64 L243.68,93.39 L244.28,93.14 L244.88,92.90 L245.48,92.66 L246.08,92.41 L246.68,92.17 L247.28,91.93 L247.88,91.69 L248.48,91.45 L249.08,91.21 L249.69,90.97 L250.29,90.73 L250.89,90.50 L251.49,90.26 L252.09,90.03 L252.69,89.80 L253.29,89.56 L253.89,89.33 L254.49,89.10 L255.09,88.87 L255.69,88.64 L256.29,88.42 L256.89,88.19 L257.49,87.96 L258.09,87.74 L258.69,87.51 L259.29,87.29 L259.89,87.07 L260.49,86.84 L261.09,86.62 L261.69,86.40 L262.29,86.18 L262.89,85.96 L263.49,85.74 L264.09,85.53 L264.69,85.31 L265.29,85.10 L265.90,84.88 L266.50,84.67 L267.10,84.45 L267.70,84.24 L268.30,84.03 L268.90,83.82 L269.50,83.61 L270.10,83.40 L270.70,83.19 L271.30,82.98 L271.90,82.77 L272.50,82.56 L273.10,82.36 L273.70,82.15 L274.30,81.95 L274.90,81.74 L275.50,81.54 L276.10,81.34 L276.70,81.14 L277.30,80.93 L277.90,80.73 L278.50,80.53 L279.10,80.33 L279.70,80.14 L280.30,79.94 L280.90,79.74 L281.50,79.54 L282.11,79.35 L282.71,79.15 L283.31,78.96 L283.91,78.76 L284.51,78.57 L285.11,78.38 L285.71,78.18 L286.31,77.99 L286.91,77.80 L287.51,77.61 L288.11,77.42 L288.71,77.23 L289.31,77.04 L289.91,76.86 L290.51,76.67 L291.11,76.48 L291.71,76.29 L292.31,76.11 L292.91,75.92 L293.51,75.74 L294.11,75.56 L294.71,75.37 L295.31,75.19 L295.91,75.01 L296.51,74.83 L297.11,74.64 L297.71,74.46 L298.32,74.28 L298.92,74.10 L299.52,73.92 L300.12,73.75 L300.72,73.57 L301.32,73.39 L301.92,73.21 L302.52,73.04 L303.12,72.86 L303.72,72.69 L304.32,72.51 L304.92,72.34 L305.52,72.16 L306.12,71.99 L306.72,71.82 L307.32,71.65 L307.92,71.47 L308.52,71.30 L309.12,71.13 L309.72,70.96 L310.32,70.79 L310.92,70.62 L311.52,70.45 L312.12,70.29 L312.72,70.12 L313.32,69.95 L313.92,69.78 L314.53,69.62 L315.13,69.45 L315.73,69.29 L316.33,69.12 L316.93,68.96 L317.53,68.79 L318.13,68.63 L318.73,68.47 L319.33,68.30 L319.93,68.14 L320.53,67.98 L321.13,67.82 L321.73,67.66 L322.33,67.50 L322.93,67.34 L323.53,67.18 L324.13,67.02 L324.73,66.86 L325.33,66.70 L325.93,66.54 L326.53,66.39 L327.13,66.23 L327.73,66.07 L328.33,65.92 L328.93,65.76 L329.53,65.60 L330.13,65.45 L330.74,65.29 L331.34,65.14 L331.94,64.99 L332.54,64.83 L333.14,64.68 L333.74,64.53 L334.34,64.38 L334.94,64.22 L335.54,64.07 L336.14,63.92 L336.74,63.77 L337.34,63.62 L337.94,63.47 L338.54,63.32 L339.14,63.17 L339.74,63.02 L340.34,62.88 L340.94,62.73 L341.54,62.58 L342.14,62.43 L342.74,62.29 L343.34,62.14 L343.94,61.99 L344.54,61.85 L345.14,61.70 L345.74,61.56 L346.34,61.41 L346.95,61.27 L347.55,61.13 L348.15,60.98 L348.75,60.84 L349.35,60.70 L349.95,60.55 L350.55,60.41 L351.15,60.27 L351.75,60.13 L352.35,59.99 L352.95,59.85 L353.55,59.71 L354.15,59.57 L354.75,59.43 L355.35,59.29 L355.95,59.15 L356.55,59.01 L357.15,58.87 L357.75,58.73 L358.35,58.59 L358.95,58.46 L359.55,58.32 L360.15,58.18 L360.75,58.05 L361.35,57.91 L361.95,57.77 L362.55,57.64 L363.16,57.50 L363.76,57.37 L364.36,57.23 L364.96,57.10 L365.56,56.97 L366.16,56.83 L366.76,56.70 L367.36,56.57 L367.96,56.43 L368.56,56.30 L369.16,56.17 L369.76,56.04 L370.36,55.91 L370.96,55.77 L371.56,55.64 L372.16,55.51 L372.76,55.38 L373.36,55.25 L373.96,55.12 L374.56,54.99 L375.16,54.86 L375.76,54.74 L376.36,54.61 L376.96,54.48 L377.56,54.35 L378.16,54.22 L378.76,54.10 L379.37,53.97 L379.97,53.84 L380.57,53.72 L381.17,53.59 L381.77,53.46 L382.37,53.34 L382.97,53.21 L383.57,53.09 L384.17,52.96 L384.77,52.84 L385.37,52.71 L385.97,52.59 L386.57,52.46 L387.17,52.34 L387.77,52.22 L388.37,52.09 L388.97,51.97 L389.57,51.85 L390.17,51.73 L390.77,51.60 L391.37,51.48 L391.97,51.36 L392.57,51.24 L393.17,51.12 L393.77,51.00 L394.37,50.88 L394.97,50.76 L395.58,50.64 L396.18,50.52 L396.78,50.40 L397.38,50.28 L397.98,50.16 L398.58,50.04 L399.18,49.92 L399.78,49.80 L400.38,49.69 L400.98,49.57 L401.58,49.45 L402.18,49.33 L402.78,49.22 L403.38,49.10 L403.98,48.98 L404.58,48.87 L405.18,48.75 L405.78,48.63 L406.38,48.52 L406.98,48.40 L407.58,48.29 L408.18,48.17 L408.78,48.06 L409.38,47.94 L409.98,47.83 L410.58,47.72 L411.18,47.60 L411.79,47.49 L412.39,47.37 L412.99,47.26 L413.59,47.15 L414.19,47.04 L414.79,46.92 L415.39,46.81 L415.99,46.70 L416.59,46.59 L417.19,46.48 L417.79,46.36 L418.39,46.25 L418.99,46.14 L419.59,46.03 L420.19,45.92 L420.79,45.81 L421.39,45.70 L421.99,45.59 L422.59,45.48 L423.19,45.37 L423.79,45.26 L424.39,45.15 L424.99,45.04 L425.59,44.94 L426.19,44.83 L426.79,44.72 L427.39,44.61 L427.99,44.50 L428.60,44.39 L429.20,44.29 L429.80,44.18 L430.40,44.07 L431.00,43.97 L431.60,43.86 L432.20,43.75 L432.80,43.65 L433.40,43.54 L434.00,43.44 L434.60,43.33 L435.20,43.22 L435.80,43.12 L436.40,43.01 L437.00,42.91 L437.60,42.80 L438.20,42.70 L438.80,42.60 L439.40,42.49 L440.00,42.39 L440.60,42.28 L441.20,42.18 L441.80,42.08 L442.40,41.97 L443.00,41.87 L443.60,41.77 L444.20,41.67 L444.81,41.56 L445.41,41.46 L446.01,41.36 L446.61,41.26 L447.21,41.15 L447.81,41.05 L448.41,40.95 L449.01,40.85 L449.61,40.75 L450.21,40.65 L450.81,40.55 L451.41,40.45 L452.01,40.35 L452.61,40.25 L453.21,40.15 L453.81,40.05 L454.41,39.95 L455.01,39.85 L455.61,39.75 L456.21,39.65 L456.81,39.55 L457.41,39.45 L458.01,39.35 L458.61,39.26 L459.21,39.16 L459.81,39.06 L460.41,38.96 L461.02,38.86 L461.62,38.77 L462.22,38.67 L462.82,38.57 L463.42,38.47 L464.02,38.38 L464.62,38.28 L465.22,38.18 L465.82,38.09 L466.42,37.99 L467.02,37.90 L467.62,37.80 L468.22,37.70 L468.82,37.61 L469.42,37.51 L470.02,37.42 L470.62,37.32 L471.22,37.23 L471.82,37.13 L472.42,37.04 L473.02,36.94 L473.62,36.85 L474.22,36.76 L474.82,36.66 L475.42,36.57 L476.02,36.47 L476.62,36.38 L477.23,36.29 L477.83,36.19 L478.43,36.10 L479.03,36.01 L479.63,35.92 L480.23,35.82 L480.83,35.73 L481.43,35.64 L482.03,35.55 L482.63,35.45 L483.23,35.36 L483.83,35.27 L484.43,35.18 L485.03,35.09 L485.63,35.00 L486.23,34.90 L486.83,34.81 L487.43,34.72 L488.03,34.63 L488.63,34.54 L489.23,34.45 L489.83,34.36 L490.43,34.27 L491.03,34.18 L491.63,34.09 L492.23,34.00 L492.83,33.91 L493.44,33.82 L494.04,33.73 L494.64,33.64 L495.24,33.55 L495.84,33.47 L496.44,33.38 L497.04,33.29 L497.64,33.20 L498.24,33.11 L498.84,33.02 L499.44,32.94 L500.04,32.85 L500.64,32.76 L501.24,32.67" stroke="#ff00ff" stroke-width="1.9"/>
<path d="M75.50,358.40 L75.53,358.29 L75.56,358.18 L75.59,358.06 L75.62,357.95 L75.65,357.84 L75.68,357.73 L75.71,357.61 L75.74,357.50 L75.78,357.39 L75.81,357.28 L75.84,357.17 L75.87,357.05 L75.90,356.94 L75.93,356.83 L75.96,356.72 L75.99,356.61 L76.02,356.49 L76.05,356.38 L76.08,356.27 L76.11,356.16 L76.14,356.05 L76.17,355.94 L76.20,355.82 L76.23,355.71 L76.26,355.60 L76.29,355.49 L76.33,355.38 L76.36,355.27 L76.39,355.16 L76.42,355.04 L76.45,354.93 L76.48,354.82 L76.51,354.71 L76.54,354.60 L76.57,354.49 L76.60,354.38 L76.63,354.27 L76.66,354.15 L76.69,354.04 L76.72,353.93 L76.75,353.82 L76.78,353.71 L76.81,353.60 L76.84,353.49 L76.88,353.38 L76.91,353.27 L76.94,353.16 L76.97,353.05 L77.00,352.94 L77.03,352.83 L77.06,352.72 L77.09,352.60 L77.12,352.49 L77.15,352.38 L77.18,352.27 L77.21,352.16 L77.24,352.05 L77.27,351.94 L77.30,351.83 L77.33,351.72 L77.36,351.61 L77.39,351.50 L77.43,351.39 L77.46,351.28 L77.49,351.17 L77.52,351.06 L77.55,350.95 L77.58,350.84 L77.61,350.73 L77.64,350.62 L77.67,350.51 L77.70,350.40 L77.73,350.29 L77.76,350.18 L77.79,350.08 L77.82,349.97 L77.85,349.86 L77.88,349.75 L77.91,349.64 L77.95,349.53 L77.98,349.42 L78.01,349.31 L78.04,349.20 L78.07,349.09 L78.10,348.98 L78.13,348.87 L78.16,348.76 L78.19,348.65 L78.22,348.55 L78.25,348.44 L78.28,348.33 L78.31,348.22 L78.34,348.11 L78.37,348.00 L78.40,347.89 L78.43,347.78 L78.46,347.67 L78.50,347.57 L78.53,347.46 L78.56,347.35 L78.59,347.24 L78.62,347.13 L78.65,347.02 L78.68,346.91 L78.71,346.81 L78.74,346.70 L78.77,346.59 L78.80,346.48 L78.83,346.37 L78.86,346.26 L78.89,346.16 L78.92,346.05 L78.95,345.94 L78.98,345.83 L79.01,345.72 L79.05,345.62 L79.08,345.51 L79.11,345.40 L79.14,345.29 L79.17,345.18 L79.20,345.08 L79.23,344.97 L79.26,344.86 L79.29,344.75 L79.32,344.65 L79.35,344.54 L79.38,344.43 L79.41,344.32 L79.44,344.22 L79.47,344.11 L79.50,344.00 L79.53,343.89 L79.56,343.79 L79.60,343.68 L79.63,343.57 L79.66,343.46 L79.69,343.36 L79.72,343.25 L79.75,343.14 L79.78,343.04 L79.81,342.93 L79.84,342.82 L79.87,342.71 L79.90,342.61 L79.93,342.50 L79.96,342.39 L79.99,342.29 L80.02,342.18 L80.05,342.07 L80.08,341.97 L80.11,341.86 L80.15,341.75 L80.18,341.65 L80.21,341.54 L80.24,341.43 L80.27,341.33 L80.30,341.22 L80.33,341.11 L80.36,341.01 L80.39,340.90 L80.42,340.80 L80.45,340.69 L80.48,340.58 L80.51,340.48 L80.54,340.37 L80.57,340.26 L80.60,340.16 L80.63,340.05 L80.67,339.95 L80.70,339.84 L80.73,339.73 L80.76,339.63 L80.79,339.52 L80.82,339.42 L80.85,339.31 L80.88,339.21 L80.91,339.10 L80.94,338.99 L80.97,338.89 L81.00,338.78 L81.03,338.68 L81.06,338.57 L81.09,338.47 L81.12,338.36 L81.15,338.25 L81.18,338.15 L81.22,338.04 L81.25,337.94 L81.28,337.83 L81.31,337.73 L81.34,337.62 L81.37,337.52 L81.40,337.41 L81.43,337.31 L81.46,337.20 L81.49,337.10 L81.52,336.99 L81.55,336.89 L81.58,336.78 L82.18,334.73 L82.78,332.69 L83.38,330.67 L83.98,328.65 L84.58,326.66 L85.18,324.67 L85.78,322.70 L86.38,320.75 L86.99,318.80 L87.59,316.87 L88.19,314.96 L88.79,313.05 L89.39,311.16 L89.99,309.29 L90.59,307.42 L91.19,305.57 L91.79,303.73 L92.39,301.90 L92.99,300.09 L93.59,298.29 L94.19,296.50 L94.79,294.72 L95.39,292.96 L95.99,291.21 L96.59,289.46 L97.19,287.74 L97.79,286.02 L98.39,284.31 L98.99,282.62 L99.59,280.94 L100.19,279.27 L100.79,277.61 L101.39,275.96 L101.99,274.33 L102.59,272.70 L103.20,271.09 L103.80,269.49 L104.40,267.90 L105.00,266.32 L105.60,264.75 L106.20,263.19 L106.80,261.64 L107.40,260.10 L108.00,258.57 L108.60,257.06 L109.20,255.55 L109.80,254.06 L110.40,252.57 L111.00,251.09 L111.60,249.63 L112.20,248.17 L112.80,246.73 L113.40,245.29 L114.00,243.87 L114.60,242.45 L115.20,241.05 L115.80,239.65 L116.40,238.26 L117.00,236.89 L117.60,235.52 L118.20,234.16 L118.80,232.81 L119.41,231.47 L120.01,230.14 L120.61,228.82 L121.21,227.51 L121.81,226.20 L122.41,224.91 L123.01,223.62 L123.61,222.35 L124.21,221.08 L124.81,219.82 L125.41,218.57 L126.01,217.33 L126.61,216.09 L127.21,214.87 L127.81,213.65 L128.41,212.44 L129.01,211.24 L129.61,210.05 L130.21,208.87 L130.81,207.69 L131.41,206.52 L132.01,205.37 L132.61,204.21 L133.21,203.07 L133.81,201.93 L134.41,200.81 L135.01,199.69 L135.62,198.57 L136.22,197.47 L136.82,196.37 L137.42,195.28 L138.02,194.20 L138.62,193.12 L139.22,192.06 L139.82,191.00 L140.42,189.94 L141.02,188.90 L141.62,187.86 L142.22,186.83 L142.82,185.80 L143.42,184.79 L144.02,183.78 L144.62,182.77 L145.22,181.78 L145.82,180.79 L146.42,179.81 L147.02,178.83 L147.62,177.86 L148.22,176.90 L148.82,175.94 L149.42,174.99 L150.02,174.05 L150.62,173.11 L151.22,172.18 L151.83,171.26 L152.43,170.34 L153.03,169.43 L153.63,168.52 L154.23,167.63 L154.83,166.73 L155.43,165.85 L156.03,164.97 L156.63,164.09 L157.23,163.22 L157.83,162.36 L158.43,161.51 L159.03,160.66 L159.63,159.81 L160.23,158.97 L160.83,158.14 L161.43,157.31 L162.03,156.49 L162.63,155.67 L163.23,154.86 L163.83,154.06 L164.43,153.26 L165.03,152.46 L165.63,151.68 L166.23,150.89 L166.83,150.12 L167.43,149.34 L168.04,148.58 L168.64,147.81 L169.24,147.06 L169.84,146.31 L170.44,145.56 L171.04,144.82 L171.64,144.08 L172.24,143.35 L172.84,142.63 L173.44,141.91 L174.04,141.19 L174.64,140.48 L175.24,139.77 L175.84,139.07 L176.44,138.37 L177.04,137.68 L177.64,137.00 L178.24,136.31 L178.84,135.64 L179.44,134.96 L180.04,134.29 L180.64,133.63 L181.24,132.97 L181.84,132.32 L182.44,131.67 L183.04,131.02 L183.64,130.38 L184.25,129.74 L184.85,129.11 L185.45,128.48 L186.05,127.86 L186.65,127.24 L187.25,126.62 L187.85,126.01 L188.45,125.40 L189.05,124.80 L189.65,124.20 L190.25,123.61 L190.85,123.02 L191.45,122.43 L192.05,121.85 L192.65,121.27 L193.25,120.70 L193.85,120.13 L194.45,119.56 L195.05,119.00 L195.65,118.44 L196.25,117.88 L196.85,117.33 L197.45,116.78 L198.05,116.24 L198.65,115.70 L199.25,115.16 L199.85,114.63 L200.46,114.10 L201.06,113.58 L201.66,113.06 L202.26,112.54 L202.86,112.02 L203.46,111.51 L204.06,111.01 L204.66,110.50 L205.26,110.00 L205.86,109.50 L206.46,109.01 L207.06,108.52 L207.66,108.03 L208.26,107.55 L208.86,107.07 L209.46,106.59 L210.06,106.12 L210.66,105.65 L211.26,105.18 L211.86,104.72 L212.46,104.26 L213.06,103.80 L213.66,103.34 L214.26,102.89 L214.86,102.44 L215.46,102.00 L216.06,101.56 L216.67,101.12 L217.27,100.68 L217.87,100.25 L218.47,99.82 L219.07,99.39 L219.67,98.97 L220.27,98.55 L220.87,98.13 L221.47,97.71 L222.07,97.30 L222.67,96.89 L223.27,96.48 L223.87,96.08 L224.47,95.68 L225.07,95.28 L225.67,94.88 L226.27,94.49 L226.87,94.10 L227.47,93.71 L228.07,93.32 L228.67,92.94 L229.27,92.56 L229.87,92.18 L230.47,91.81 L231.07,91.44 L231.67,91.07 L232.27,90.70 L232.88,90.34 L233.48,89.97 L234.08,89.61 L234.68,89.26 L235.28,88.90 L235.88,88.55 L236.48,88.20 L237.08,87.85 L237.68,87.51 L238.28,87.16 L238.88,86.82 L239.48,86.49 L240.08,86.15 L240.68,85.82 L241.28,85.49 L241.88,85.16 L242.48,84.83 L243.08,84.51 L243.68,84.18 L244.28,83.86 L244.88,83.55 L245.48,83.23 L246.08,82.92 L246.68,82.61 L247.28,82.30 L247.88,81.99 L248.48,81.69 L249.08,81.38 L249.69,81.08 L250.29,80.78 L250.89,80.49 L251.49,80.19 L252.09,79.90 L252.69,79.61 L253.29,79.32 L253.89,79.03 L254.49,78.75 L255.09,78.47 L255.69,78.19 L256.29,77.91 L256.89,77.63 L257.49,77.36 L258.09,77.08 L258.69,76.81 L259.29,76.54 L259.89,76.27 L260.49,76.01 L261.09,75.74 L261.69,75.48 L262.29,75.22 L262.89,74.96 L263.49,74.71 L264.09,74.45 L264.69,74.20 L265.29,73.95 L265.90,73.70 L266.50,73.45 L267.10,73.20 L267.70,72.96 L268.30,72.72 L268.90,72.48 L269.50,72.24 L270.10,72.00 L270.70,71.76 L271.30,71.53 L271.90,71.29 L272.50,71.06 L273.10,70.83 L273.70,70.60 L274.30,70.38 L274.90,70.15 L275.50,69.93 L276.10,69.71 L276.70,69.49 L277.30,69.27 L277.90,69.05 L278.50,68.83 L279.10,68.62 L279.70,68.41 L280.30,68.19 L280.90,67.98 L281.50,67.78 L282.11,67.57 L282.71,67.36 L283.31,67.16 L283.91,66.95 L284.51,66.75 L285.11,66.55 L285.71,66.35 L286.31,66.16 L286.91,65.96 L287.51,65.76 L288.11,65.57 L288.71,65.38 L289.31,65.19 L289.91,65.00 L290.51,64.81 L291.11,64.62 L291.71,64.44 L292.31,64.25 L292.91,64.07 L293.51,63.89 L294.11,63.71 L294.71,63.53 L295.31,63.35 L295.91,63.17 L296.51,63.00 L297.11,62.82 L297.71,62.65 L298.32,62.48 L298.92,62.31 L299.52,62.14 L300.12,61.97 L300.72,61.80 L301.32,61.63 L301.92,61.47 L302.52,61.30 L303.12,61.14 L303.72,60.98 L304.32,60.82 L304.92,60.66 L305.52,60.50 L306.12,60.34 L306.72,60.19 L307.32,60.03 L307.92,59.88 L308.52,59.72 L309.12,59.57 L309.72,59.42 L310.32,59.27 L310.92,59.12 L311.52,58.97 L312.12,58.83 L312.72,58.68 L313.32,58.54 L313.92,58.39 L314.53,58.25 L315.13,58.11 L315.73,57.97 L316.33,57.83 L316.93,57.69 L317.53,57.55 L318.13,57.41 L318.73,57.28 L319.33,57.14 L319.93,57.01 L320.53,56.87 L321.13,56.74 L321.73,56.61 L322.33,56.48 L322.93,56.35 L323.53,56.22 L324.13,56.09 L324.73,55.96 L325.33,55.84 L325.93,55.71 L326.53,55.59 L327.13,55.47 L327.73,55.34 L328.33,55.22 L328.93,55.10 L329.53,54.98 L330.13,54.86 L330.74,54.74 L331.34,54.62 L331.94,54.51 L332.54,54.39 L333.14,54.27 L333.74,54.16 L334.34,54.05 L334.94,53.93 L335.54,53.82 L336.14,53.71 L336.74,53.60 L337.34,53.49 L337.94,53.38 L338.54,53.27 L339.14,53.16 L339.74,53.05 L340.34,52.95 L340.94,52.84 L341.54,52.74 L342.14,52.63 L342.74,52.53 L343.34,52.43 L343.94,52.33 L344.54,52.22 L345.14,52.12 L345.74,52.02 L346.34,51.92 L346.95,51.83 L347.55,51.73 L348.15,51.63 L348.75,51.53 L349.35,51.44 L349.95,51.34 L350.55,51.25 L351.15,51.15 L351.75,51.06 L352.35,50.97 L352.95,50.88 L353.55,50.79 L354.15,50.69 L354.75,50.60 L355.35,50.52 L355.95,50.43 L356.55,50.34 L357.15,50.25 L357.75,50.16 L358.35,50.08 L358.95,49.99 L359.55,49.91 L360.15,49.82 L360.75,49.74 L361.35,49.65 L361.95,49.57 L362.55,49.49 L363.16,49.41 L363.76,49.32 L364.36,49.24 L364.96,49.16 L365.56,49.08 L366.16,49.01 L366.76,48.93 L367.36,48.85 L367.96,48.77 L368.56,48.69 L369.16,48.62 L369.76,48.54 L370.36,48.47 L370.96,48.39 L371.56,48.32 L372.16,48.24 L372.76,48.17 L373.36,48.10 L373.96,48.03 L374.56,47.95 L375.16,47.88 L375.76,47.81 L376.36,47.74 L376.96,47.67 L377.56,47.60 L378.16,47.53 L378.76,47.46 L379.37,47.40 L379.97,47.33 L380.57,47.26 L381.17,47.20 L381.77,47.13 L382.37,47.06 L382.97,47.00 L383.57,46.93 L384.17,46.87 L384.77,46.81 L385.37,46.74 L385.97,46.68 L386.57,46.62 L387.17,46.55 L387.77,46.49 L388.37,46.43 L388.97,46.37 L389.57,46.31 L390.17,46.25 L390.77,46.19 L391.37,46.13 L391.97,46.07 L392.57,46.01 L393.17,45.96 L393.77,45.90 L394.37,45.84 L394.97,45.78 L395.58,45.73 L396.18,45.67 L396.78,45.62 L397.38,45.56 L397.98,45.51 L398.58,45.45 L399.18,45.40 L399.78,45.34 L400.38,45.29 L400.98,45.24 L401.58,45.18 L402.18,45.13 L402.78,45.08 L403.38,45.03 L403.98,44.98 L404.58,44.93 L405.18,44.88 L405.78,44.83 L406.38,44.78 L406.98,44.73 L407.58,44.68 L408.18,44.63 L408.78,44.58 L409.38,44.53 L409.98,44.48 L410.58,44.44 L411.18,44.39 L411.79,44.34 L412.39,44.30 L412.99,44.25 L413.59,44.20 L414.19,44.16 L414.79,44.11 L415.39,44.07 L415.99,44.02 L416.59,43.98 L417.19,43.94 L417.79,43.89 L418.39,43.85 L418.99,43.80 L419.59,43.76 L420.19,43.72 L420.79,43.68 L421.39,43.64 L421.99,43.59 L422.59,43.55 L423.19,43.51 L423.79,43.47 L424.39,43.43 L424.99,43.39 L425.59,43.35 L426.19,43.31 L426.79,43.27 L427.39,43.23 L427.99,43.19 L428.60,43.15 L429.20,43.12 L429.80,43.08 L430.40,43.04 L431.00,43.00 L431.60,42.96 L432.20,42.93 L432.80,42.89 L433.40,42.85 L434.00,42.82 L434.60,42.78 L435.20,42.75 L435.80,42.71 L436.40,42.67 L437.00,42.64 L437.60,42.61 L438.20,42.57 L438.80,42.54 L439.40,42.50 L440.00,42.47 L440.60,42.43 L441.20,42.40 L441.80,42.37 L442.40,42.33 L443.00,42.30 L443.60,42.27 L444.20,42.24 L444.81,42.21 L445.41,42.17 L446.01,42.14 L446.61,42.11 L447.21,42.08 L447.81,42.05 L448.41,42.02 L449.01,41.99 L449.61,41.96 L450.21,41.93 L450.81,41.90 L451.41,41.87 L452.01,41.84 L452.61,41.81 L453.21,41.78 L453.81,41.75 L454.41,41.72 L455.01,41.69 L455.61,41.66 L456.21,41.64 L456.81,41.61 L457.41,41.58 L458.01,41.55 L458.61,41.52 L459.21,41.50 L459.81,41.47 L460.41,41.44 L461.02,41.42 L461.62,41.39 L462.22,41.36 L462.82,41.34 L463.42,41.31 L464.02,41.29 L464.62,41.26 L465.22,41.24 L465.82,41.21 L466.42,41.19 L467.02,41.16 L467.62,41.14 L468.22,41.11 L468.82,41.09 L469.42,41.06 L470.02,41.04 L470.62,41.02 L471.22,40.99 L471.82,40.97 L472.42,40.94 L473.02,40.92 L473.62,40.90 L474.22,40.88 L474.82,40.85 L475.42,40.83 L476.02,40.81 L476.62,40.79 L477.23,40.76 L477.83,40.74 L478.43,40.72 L479.03,40.70 L479.63,40.68 L480.23,40.65 L480.83,40.63 L481.43,40.61 L482.03,40.59 L482.63,40.57 L483.23,40.55 L483.83,40.53 L484.43,40.51 L485.03,40.49 L485.63,40.47 L486.23,40.45 L486.83,40.43 L487.43,40.41 L488.03,40.39 L488.63,40.37 L489.23,40.35 L489.83,40.33 L490.43,40.31 L491.03,40.29 L491.63,40.28 L492.23,40.26 L492.83,40.24 L493.44,40.22 L494.04,40.20 L494.64,40.18 L495.24,40.17 L495.84,40.15 L496.44,40.13 L497.04,40.11 L497.64,40.10 L498.24,40.08 L498.84,40.06 L499.44,40.04 L500.04,40.03 L500.64,40.01 L501.24,39.99" stroke="#0000ff" stroke-width="1.9"/>
</g>
<g class="tl">
<text x="75.60" y="381.4" text-anchor="middle" textLength="8.07" lengthAdjust="spacingAndGlyphs">0</text>
<text x="136.42" y="381.4" text-anchor="middle" textLength="16.14" lengthAdjust="spacingAndGlyphs">50</text>
<text x="197.24" y="381.4" text-anchor="middle" textLength="24.21" lengthAdjust="spacingAndGlyphs">100</text>
<text x="258.06" y="381.4" text-anchor="middle" textLength="24.21" lengthAdjust="spacingAndGlyphs">150</text>
<text x="318.88" y="381.4" text-anchor="middle" textLength="24.21" lengthAdjust="spacingAndGlyphs">200</text>
<text x="379.70" y="381.4" text-anchor="middle" textLength="24.21" lengthAdjust="spacingAndGlyphs">250</text>
<text x="440.52" y="381.4" text-anchor="middle" textLength="24.21" lengthAdjust="spacingAndGlyphs">300</text>
<text x="501.34" y="381.4" text-anchor="middle" textLength="24.21" lengthAdjust="spacingAndGlyphs">350</text>
<text x="64.2" y="362.90" text-anchor="end" textLength="8.07" lengthAdjust="spacingAndGlyphs">0</text>
<text x="64.2" y="294.48" text-anchor="end" textLength="8.07" lengthAdjust="spacingAndGlyphs">5</text>
<text x="64.2" y="226.06" text-anchor="end" textLength="16.14" lengthAdjust="spacingAndGlyphs">10</text>
<text x="64.2" y="157.64" text-anchor="end" textLength="16.14" lengthAdjust="spacingAndGlyphs">15</text>
<text x="64.2" y="89.22" text-anchor="end" textLength="16.14" lengthAdjust="spacingAndGlyphs">20</text>
<text x="64.2" y="20.80" text-anchor="end" textLength="16.14" lengthAdjust="spacingAndGlyphs">25</text>
</g>
<text class="ttl" x="248.5" y="409.8" textLength="79.8" lengthAdjust="spacing">C<tspan font-size="12" dy="4.8">e</tspan><tspan dy="-4.8"> (mg/L)</tspan></text>
<text class="ttl" transform="translate(37.0,227.0) rotate(-90)" textLength="78.2" lengthAdjust="spacing">q<tspan font-size="12" dy="4.8">e</tspan><tspan dy="-4.8"> (mg/g)</tspan></text>
<g class="lg">
<circle cx="273.2" cy="227.1" r="5.9" fill="none" stroke="#000" stroke-width="2.4"/>
<text x="295.5" y="232.3" textLength="92.6" lengthAdjust="spacingAndGlyphs">experimental</text>
<line x1="254.9" y1="246.3" x2="291.3" y2="246.3" stroke="#000" stroke-width="1.7" stroke-linecap="round"/>
<text x="295.5" y="252.0" textLength="182.2" lengthAdjust="spacingAndGlyphs">Langumir isotherm model</text>
<line x1="254.9" y1="266.0" x2="291.3" y2="266.0" stroke="#ff0000" stroke-width="1.7" stroke-linecap="round"/>
<text x="295.5" y="271.7" textLength="189.8" lengthAdjust="spacingAndGlyphs">Freundlich isotherm model</text>
<line x1="255.35" y1="286.1" x2="291.3" y2="286.1" stroke="#ff0000" stroke-width="3" stroke-linecap="round" stroke-dasharray="1.3 13.9"/>
<text x="295.5" y="291.6" textLength="177.0" lengthAdjust="spacingAndGlyphs">Tempkin isotherm model</text>
<line x1="254.2" y1="306.0" x2="290.0" y2="306.0" stroke="#6caa20" stroke-width="2" stroke-dasharray="10.7 4.2 2.8 4.2"/>
<text x="295.5" y="311.3" textLength="146.7" lengthAdjust="spacingAndGlyphs">Sips isotherm model</text>
<line x1="254.9" y1="325.6" x2="291.3" y2="325.6" stroke="#ff00ff" stroke-width="1.9" stroke-linecap="round"/>
<text x="295.5" y="331.0" textLength="174.6" lengthAdjust="spacingAndGlyphs">Jossens isotherm model</text>
<line x1="254.9" y1="345.3" x2="291.3" y2="345.3" stroke="#0000ff" stroke-width="1.9" stroke-linecap="round"/>
<text x="295.5" y="350.8" textLength="186.7" lengthAdjust="spacingAndGlyphs">Jovanovic isotherm model</text>
</g>
</svg>
</body></html>
